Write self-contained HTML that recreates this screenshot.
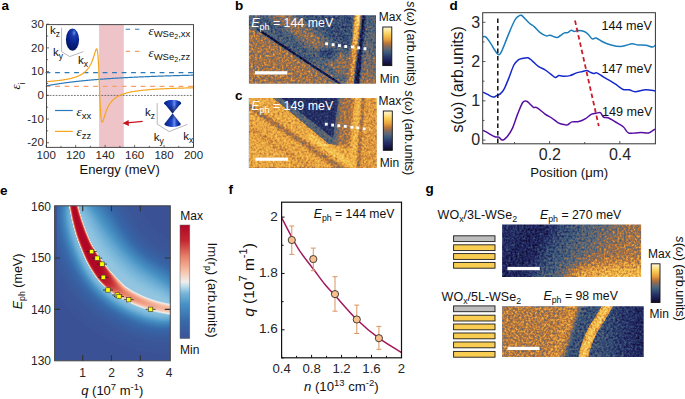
<!DOCTYPE html><html><head><meta charset="utf-8"><style>html,body{margin:0;padding:0;background:#fff;}svg{display:block;} text{font-family:"Liberation Sans", sans-serif;}</style></head><body>
<svg width="685" height="399" viewBox="0 0 685 399">
<defs>
<filter id="cmS" x="0" y="0" width="1" height="1" color-interpolation-filters="sRGB">
<feTurbulence type="fractalNoise" baseFrequency="0.45" numOctaves="2" seed="4" result="n"/>
<feColorMatrix in="n" type="matrix" values="1 0 0 0 0 1 0 0 0 0 1 0 0 0 0 0 0 0 0 1" result="ng"/>
<feComposite in="SourceGraphic" in2="ng" operator="arithmetic" k1="0" k2="1" k3="0.5" k4="-0.25" result="s"/>
<feComponentTransfer in="s">
<feFuncR type="table" tableValues="0.047 0.064 0.081 0.099 0.113 0.128 0.142 0.156 0.176 0.196 0.216 0.248 0.294 0.340 0.397 0.463 0.528 0.603 0.683 0.759 0.814 0.868 0.914 0.930 0.946 0.963 0.975 0.983 0.990 0.997 1.000 1.000 1.000"/>
<feFuncG type="table" tableValues="0.047 0.064 0.081 0.099 0.123 0.150 0.176 0.203 0.242 0.283 0.323 0.355 0.376 0.398 0.411 0.416 0.422 0.438 0.460 0.485 0.539 0.594 0.645 0.686 0.727 0.768 0.805 0.836 0.868 0.900 0.925 0.945 0.965"/>
<feFuncB type="table" tableValues="0.125 0.184 0.243 0.302 0.335 0.362 0.388 0.415 0.431 0.446 0.462 0.471 0.471 0.471 0.445 0.398 0.352 0.306 0.260 0.221 0.232 0.243 0.255 0.274 0.292 0.311 0.353 0.433 0.513 0.592 0.681 0.776 0.871"/>
<feFuncA type="linear" slope="0" intercept="1"/>
</feComponentTransfer>
<feGaussianBlur stdDeviation="0.35"/>
</filter>
<filter id="cmS2" x="0" y="0" width="1" height="1" color-interpolation-filters="sRGB">
<feTurbulence type="fractalNoise" baseFrequency="0.45" numOctaves="2" seed="9" result="n"/>
<feColorMatrix in="n" type="matrix" values="1 0 0 0 0 1 0 0 0 0 1 0 0 0 0 0 0 0 0 1" result="ng"/>
<feComposite in="SourceGraphic" in2="ng" operator="arithmetic" k1="0" k2="1" k3="0.38" k4="-0.19" result="s"/>
<feComponentTransfer in="s">
<feFuncR type="table" tableValues="0.047 0.064 0.081 0.099 0.113 0.128 0.142 0.156 0.176 0.196 0.216 0.248 0.294 0.340 0.397 0.463 0.528 0.603 0.683 0.759 0.814 0.868 0.914 0.930 0.946 0.963 0.975 0.983 0.990 0.997 1.000 1.000 1.000"/>
<feFuncG type="table" tableValues="0.047 0.064 0.081 0.099 0.123 0.150 0.176 0.203 0.242 0.283 0.323 0.355 0.376 0.398 0.411 0.416 0.422 0.438 0.460 0.485 0.539 0.594 0.645 0.686 0.727 0.768 0.805 0.836 0.868 0.900 0.925 0.945 0.965"/>
<feFuncB type="table" tableValues="0.125 0.184 0.243 0.302 0.335 0.362 0.388 0.415 0.431 0.446 0.462 0.471 0.471 0.471 0.445 0.398 0.352 0.306 0.260 0.221 0.232 0.243 0.255 0.274 0.292 0.311 0.353 0.433 0.513 0.592 0.681 0.776 0.871"/>
<feFuncA type="linear" slope="0" intercept="1"/>
</feComponentTransfer>
<feGaussianBlur stdDeviation="0.35"/>
</filter>
<filter id="cmS3" x="0" y="0" width="1" height="1" color-interpolation-filters="sRGB">
<feTurbulence type="fractalNoise" baseFrequency="0.45" numOctaves="2" seed="13" result="n"/>
<feColorMatrix in="n" type="matrix" values="1 0 0 0 0 1 0 0 0 0 1 0 0 0 0 0 0 0 0 1" result="ng"/>
<feComposite in="SourceGraphic" in2="ng" operator="arithmetic" k1="0" k2="1" k3="0.5" k4="-0.25" result="s"/>
<feComponentTransfer in="s">
<feFuncR type="table" tableValues="0.047 0.064 0.081 0.099 0.113 0.128 0.142 0.156 0.176 0.196 0.216 0.248 0.294 0.340 0.397 0.463 0.528 0.603 0.683 0.759 0.814 0.868 0.914 0.930 0.946 0.963 0.975 0.983 0.990 0.997 1.000 1.000 1.000"/>
<feFuncG type="table" tableValues="0.047 0.064 0.081 0.099 0.123 0.150 0.176 0.203 0.242 0.283 0.323 0.355 0.376 0.398 0.411 0.416 0.422 0.438 0.460 0.485 0.539 0.594 0.645 0.686 0.727 0.768 0.805 0.836 0.868 0.900 0.925 0.945 0.965"/>
<feFuncB type="table" tableValues="0.125 0.184 0.243 0.302 0.335 0.362 0.388 0.415 0.431 0.446 0.462 0.471 0.471 0.471 0.445 0.398 0.352 0.306 0.260 0.221 0.232 0.243 0.255 0.274 0.292 0.311 0.353 0.433 0.513 0.592 0.681 0.776 0.871"/>
<feFuncA type="linear" slope="0" intercept="1"/>
</feComponentTransfer>
<feGaussianBlur stdDeviation="0.35"/>
</filter>
<filter id="cmS4" x="0" y="0" width="1" height="1" color-interpolation-filters="sRGB">
<feTurbulence type="fractalNoise" baseFrequency="0.45" numOctaves="2" seed="21" result="n"/>
<feColorMatrix in="n" type="matrix" values="1 0 0 0 0 1 0 0 0 0 1 0 0 0 0 0 0 0 0 1" result="ng"/>
<feComposite in="SourceGraphic" in2="ng" operator="arithmetic" k1="0" k2="1" k3="0.5" k4="-0.25" result="s"/>
<feComponentTransfer in="s">
<feFuncR type="table" tableValues="0.047 0.064 0.081 0.099 0.113 0.128 0.142 0.156 0.176 0.196 0.216 0.248 0.294 0.340 0.397 0.463 0.528 0.603 0.683 0.759 0.814 0.868 0.914 0.930 0.946 0.963 0.975 0.983 0.990 0.997 1.000 1.000 1.000"/>
<feFuncG type="table" tableValues="0.047 0.064 0.081 0.099 0.123 0.150 0.176 0.203 0.242 0.283 0.323 0.355 0.376 0.398 0.411 0.416 0.422 0.438 0.460 0.485 0.539 0.594 0.645 0.686 0.727 0.768 0.805 0.836 0.868 0.900 0.925 0.945 0.965"/>
<feFuncB type="table" tableValues="0.125 0.184 0.243 0.302 0.335 0.362 0.388 0.415 0.431 0.446 0.462 0.471 0.471 0.471 0.445 0.398 0.352 0.306 0.260 0.221 0.232 0.243 0.255 0.274 0.292 0.311 0.353 0.433 0.513 0.592 0.681 0.776 0.871"/>
<feFuncA type="linear" slope="0" intercept="1"/>
</feComponentTransfer>
<feGaussianBlur stdDeviation="0.35"/>
</filter>
<filter id="cmRB" x="0" y="0" width="1" height="1" color-interpolation-filters="sRGB">
<feComponentTransfer in="SourceGraphic">
<feFuncR type="table" tableValues="0.231 0.228 0.225 0.222 0.218 0.218 0.230 0.243 0.255 0.267 0.299 0.360 0.422 0.499 0.641 0.789 0.941 0.950 0.958 0.967 0.956 0.941 0.926 0.910 0.880 0.848 0.817 0.785 0.760 0.743 0.725 0.708 0.690"/>
<feFuncG type="table" tableValues="0.325 0.343 0.361 0.379 0.397 0.418 0.451 0.484 0.516 0.549 0.587 0.632 0.677 0.730 0.814 0.879 0.933 0.875 0.816 0.757 0.696 0.635 0.574 0.512 0.434 0.355 0.277 0.198 0.143 0.115 0.087 0.059 0.031"/>
<feFuncB type="table" tableValues="0.588 0.605 0.621 0.637 0.654 0.671 0.692 0.713 0.735 0.756 0.779 0.806 0.833 0.863 0.902 0.921 0.925 0.838 0.751 0.664 0.598 0.537 0.475 0.414 0.366 0.317 0.269 0.221 0.191 0.181 0.170 0.160 0.149"/>
<feFuncA type="linear" slope="0" intercept="1"/>
</feComponentTransfer>
</filter>
<filter id="bl0_6" x="-50%" y="-50%" width="200%" height="200%"><feGaussianBlur stdDeviation="0.6"/></filter>
<filter id="bl1" x="-50%" y="-50%" width="200%" height="200%"><feGaussianBlur stdDeviation="1"/></filter>
<filter id="bl1_5" x="-50%" y="-50%" width="200%" height="200%"><feGaussianBlur stdDeviation="1.5"/></filter>
<filter id="bl2" x="-50%" y="-50%" width="200%" height="200%"><feGaussianBlur stdDeviation="2"/></filter>
<filter id="bl3" x="-50%" y="-50%" width="200%" height="200%"><feGaussianBlur stdDeviation="3"/></filter>
<filter id="bl4" x="-50%" y="-50%" width="200%" height="200%"><feGaussianBlur stdDeviation="4"/></filter>
<filter id="bl6" x="-50%" y="-50%" width="200%" height="200%"><feGaussianBlur stdDeviation="6"/></filter>
<filter id="bl8" x="-50%" y="-50%" width="200%" height="200%"><feGaussianBlur stdDeviation="8"/></filter>
<linearGradient id="gSW" x1="0" y1="1" x2="0" y2="0">
<stop offset="0" stop-color="rgb(12,12,32)"/>
<stop offset="0.1" stop-color="rgb(26,26,80)"/>
<stop offset="0.22" stop-color="rgb(40,52,106)"/>
<stop offset="0.33" stop-color="rgb(58,88,120)"/>
<stop offset="0.42" stop-color="rgb(92,104,120)"/>
<stop offset="0.51" stop-color="rgb(140,108,86)"/>
<stop offset="0.59" stop-color="rgb(192,122,56)"/>
<stop offset="0.68" stop-color="rgb(232,162,64)"/>
<stop offset="0.8" stop-color="rgb(248,202,82)"/>
<stop offset="0.92" stop-color="rgb(255,233,160)"/>
<stop offset="1" stop-color="rgb(255,246,222)"/>
</linearGradient>
<linearGradient id="gRB" x1="0" y1="1" x2="0" y2="0">
<stop offset="0" stop-color="rgb(59,83,150)"/>
<stop offset="0.15" stop-color="rgb(55,105,170)"/>
<stop offset="0.3" stop-color="rgb(70,145,196)"/>
<stop offset="0.4" stop-color="rgb(120,182,218)"/>
<stop offset="0.45" stop-color="rgb(178,216,234)"/>
<stop offset="0.5" stop-color="rgb(240,238,236)"/>
<stop offset="0.6" stop-color="rgb(247,190,165)"/>
<stop offset="0.72" stop-color="rgb(232,130,105)"/>
<stop offset="0.86" stop-color="rgb(196,40,50)"/>
<stop offset="1" stop-color="rgb(176,8,38)"/>
</linearGradient>
<radialGradient id="gEll" cx="0.62" cy="0.2" r="0.8"><stop offset="0" stop-color="#6d8fe8"/><stop offset="0.2" stop-color="#1a3cb0"/><stop offset="0.6" stop-color="#08208a"/><stop offset="1" stop-color="#041560"/></radialGradient>
<linearGradient id="gCone" x1="0" y1="0" x2="1" y2="0"><stop offset="0" stop-color="#061f80"/><stop offset="0.45" stop-color="#1c46c8"/><stop offset="0.6" stop-color="#6a8cf0"/><stop offset="0.75" stop-color="#1a40b8"/><stop offset="1" stop-color="#061c78"/></linearGradient>
</defs>
<text x="1.5" y="10.2" font-size="13.5" text-anchor="start" fill="#000" font-weight="bold" font-style="normal" >a</text>
<text x="235" y="10.2" font-size="13.5" text-anchor="start" fill="#000" font-weight="bold" font-style="normal" >b</text>
<text x="235" y="100.3" font-size="13.5" text-anchor="start" fill="#000" font-weight="bold" font-style="normal" >c</text>
<text x="449.5" y="10.2" font-size="13.5" text-anchor="start" fill="#000" font-weight="bold" font-style="normal" >d</text>
<text x="0" y="195" font-size="13.5" text-anchor="start" fill="#000" font-weight="bold" font-style="normal" >e</text>
<text x="228.5" y="194" font-size="13.5" text-anchor="start" fill="#000" font-weight="bold" font-style="normal" >f</text>
<text x="425.5" y="193" font-size="13.5" text-anchor="start" fill="#000" font-weight="bold" font-style="normal" >g</text>
<rect x="99.08" y="24.3" width="24.75" height="123.1" fill="#eec4c8"/>
<line x1="45.6" y1="72.55" x2="193.5" y2="72.55" stroke="#2a7ab9" stroke-width="1.2" stroke-dasharray="4.8 4.7"/>
<line x1="45.6" y1="86.4" x2="193.5" y2="86.4" stroke="#f4a06c" stroke-width="1.2" stroke-dasharray="4.8 4.7"/>
<line x1="46.5" y1="95.45" x2="193.5" y2="95.45" stroke="#555" stroke-width="0.8" stroke-dasharray="1.8 1.25"/>
<path d="M46.2 85.93 L46.38 85.89 L46.57 85.86 L46.75 85.82 L46.94 85.79 L47.12 85.75 L47.3 85.72 L47.49 85.68 L47.67 85.65 L47.86 85.61 L48.04 85.58 L48.23 85.54 L48.41 85.51 L48.59 85.47 L48.78 85.44 L48.96 85.41 L49.15 85.37 L49.33 85.34 L49.51 85.31 L49.7 85.27 L49.88 85.24 L50.07 85.21 L50.25 85.17 L50.43 85.14 L50.62 85.11 L50.8 85.07 L50.99 85.04 L51.17 85.01 L51.36 84.98 L51.54 84.94 L51.72 84.91 L51.91 84.88 L52.09 84.85 L52.28 84.82 L52.46 84.78 L52.64 84.75 L52.83 84.72 L53.01 84.69 L53.2 84.66 L53.38 84.63 L53.57 84.6 L53.75 84.56 L53.93 84.53 L54.12 84.5 L54.3 84.47 L54.49 84.44 L54.67 84.41 L54.85 84.38 L55.04 84.35 L55.22 84.32 L55.41 84.29 L55.59 84.26 L55.77 84.23 L55.96 84.2 L56.14 84.17 L56.33 84.14 L56.51 84.11 L56.7 84.08 L56.88 84.06 L57.06 84.03 L57.25 84 L57.43 83.97 L57.62 83.94 L57.8 83.91 L57.98 83.88 L58.17 83.85 L58.35 83.83 L58.54 83.8 L58.72 83.77 L58.9 83.74 L59.09 83.71 L59.27 83.69 L59.46 83.66 L59.64 83.63 L59.83 83.6 L60.01 83.58 L60.19 83.55 L60.38 83.52 L60.56 83.49 L60.75 83.47 L60.93 83.44 L61.11 83.41 L61.3 83.39 L61.48 83.36 L61.67 83.33 L61.85 83.31 L62.03 83.28 L62.22 83.25 L62.4 83.23 L62.59 83.2 L62.77 83.17 L62.96 83.15 L63.14 83.12 L63.32 83.1 L63.51 83.07 L63.69 83.05 L63.88 83.02 L64.06 82.99 L64.24 82.97 L64.43 82.94 L64.61 82.92 L64.8 82.89 L64.98 82.87 L65.16 82.84 L65.35 82.82 L65.53 82.79 L65.72 82.77 L65.9 82.74 L66.09 82.72 L66.27 82.69 L66.45 82.67 L66.64 82.65 L66.82 82.62 L67.01 82.6 L67.19 82.57 L67.37 82.55 L67.56 82.53 L67.74 82.5 L67.93 82.48 L68.11 82.45 L68.3 82.43 L68.48 82.41 L68.66 82.38 L68.85 82.36 L69.03 82.34 L69.22 82.31 L69.4 82.29 L69.58 82.27 L69.77 82.24 L69.95 82.22 L70.14 82.2 L70.32 82.18 L70.5 82.15 L70.69 82.13 L70.87 82.11 L71.06 82.09 L71.24 82.06 L71.43 82.04 L71.61 82.02 L71.79 82 L71.98 81.97 L72.16 81.95 L72.35 81.93 L72.53 81.91 L72.71 81.89 L72.9 81.86 L73.08 81.84 L73.27 81.82 L73.45 81.8 L73.63 81.78 L73.82 81.76 L74 81.73 L74.19 81.71 L74.37 81.69 L74.56 81.67 L74.74 81.65 L74.92 81.63 L75.11 81.61 L75.29 81.59 L75.48 81.57 L75.66 81.55 L75.84 81.52 L76.03 81.5 L76.21 81.48 L76.4 81.46 L76.58 81.44 L76.76 81.42 L76.95 81.4 L77.13 81.38 L77.32 81.36 L77.5 81.34 L77.69 81.32 L77.87 81.3 L78.05 81.28 L78.24 81.26 L78.42 81.24 L78.61 81.22 L78.79 81.2 L78.97 81.18 L79.16 81.16 L79.34 81.14 L79.53 81.12 L79.71 81.1 L79.89 81.08 L80.08 81.07 L80.26 81.05 L80.45 81.03 L80.63 81.01 L80.82 80.99 L81 80.97 L81.18 80.95 L81.37 80.93 L81.55 80.91 L81.74 80.89 L81.92 80.88 L82.1 80.86 L82.29 80.84 L82.47 80.82 L82.66 80.8 L82.84 80.78 L83.03 80.76 L83.21 80.75 L83.39 80.73 L83.58 80.71 L83.76 80.69 L83.95 80.67 L84.13 80.65 L84.31 80.64 L84.5 80.62 L84.68 80.6 L84.87 80.58 L85.05 80.57 L85.23 80.55 L85.42 80.53 L85.6 80.51 L85.79 80.49 L85.97 80.48 L86.16 80.46 L86.34 80.44 L86.52 80.42 L86.71 80.41 L86.89 80.39 L87.08 80.37 L87.26 80.36 L87.44 80.34 L87.63 80.32 L87.81 80.3 L88 80.29 L88.18 80.27 L88.36 80.25 L88.55 80.24 L88.73 80.22 L88.92 80.2 L89.1 80.19 L89.29 80.17 L89.47 80.15 L89.65 80.14 L89.84 80.12 L90.02 80.1 L90.21 80.09 L90.39 80.07 L90.57 80.05 L90.76 80.04 L90.94 80.02 L91.13 80.01 L91.31 79.99 L91.49 79.97 L91.68 79.96 L91.86 79.94 L92.05 79.93 L92.23 79.91 L92.42 79.89 L92.6 79.88 L92.78 79.86 L92.97 79.85 L93.15 79.83 L93.34 79.82 L93.52 79.8 L93.7 79.78 L93.89 79.77 L94.07 79.75 L94.26 79.74 L94.44 79.72 L94.62 79.71 L94.81 79.69 L94.99 79.68 L95.18 79.66 L95.36 79.65 L95.55 79.63 L95.73 79.62 L95.91 79.6 L96.1 79.59 L96.28 79.57 L96.47 79.56 L96.65 79.54 L96.83 79.53 L97.02 79.51 L97.2 79.5 L97.39 79.48 L97.57 79.47 L97.75 79.45 L97.94 79.44 L98.12 79.42 L98.31 79.41 L98.49 79.4 L98.68 79.38 L98.86 79.37 L99.04 79.35 L99.23 79.34 L99.41 79.32 L99.6 79.31 L99.78 79.3 L99.96 79.28 L100.15 79.27 L100.33 79.25 L100.52 79.24 L100.7 79.23 L100.89 79.21 L101.07 79.2 L101.25 79.18 L101.44 79.17 L101.62 79.16 L101.81 79.14 L101.99 79.13 L102.17 79.12 L102.36 79.1 L102.54 79.09 L102.73 79.07 L102.91 79.06 L103.09 79.05 L103.28 79.03 L103.46 79.02 L103.65 79.01 L103.83 78.99 L104.02 78.98 L104.2 78.97 L104.38 78.95 L104.57 78.94 L104.75 78.93 L104.94 78.91 L105.12 78.9 L105.3 78.89 L105.49 78.88 L105.67 78.86 L105.86 78.85 L106.04 78.84 L106.22 78.82 L106.41 78.81 L106.59 78.8 L106.78 78.79 L106.96 78.77 L107.15 78.76 L107.33 78.75 L107.51 78.73 L107.7 78.72 L107.88 78.71 L108.07 78.7 L108.25 78.68 L108.43 78.67 L108.62 78.66 L108.8 78.65 L108.99 78.63 L109.17 78.62 L109.35 78.61 L109.54 78.6 L109.72 78.59 L109.91 78.57 L110.09 78.56 L110.28 78.55 L110.46 78.54 L110.64 78.52 L110.83 78.51 L111.01 78.5 L111.2 78.49 L111.38 78.48 L111.56 78.46 L111.75 78.45 L111.93 78.44 L112.12 78.43 L112.3 78.42 L112.49 78.41 L112.67 78.39 L112.85 78.38 L113.04 78.37 L113.22 78.36 L113.41 78.35 L113.59 78.34 L113.77 78.32 L113.96 78.31 L114.14 78.3 L114.33 78.29 L114.51 78.28 L114.69 78.27 L114.88 78.25 L115.06 78.24 L115.25 78.23 L115.43 78.22 L115.62 78.21 L115.8 78.2 L115.98 78.19 L116.17 78.18 L116.35 78.16 L116.54 78.15 L116.72 78.14 L116.9 78.13 L117.09 78.12 L117.27 78.11 L117.46 78.1 L117.64 78.09 L117.82 78.08 L118.01 78.07 L118.19 78.05 L118.38 78.04 L118.56 78.03 L118.75 78.02 L118.93 78.01 L119.11 78 L119.3 77.99 L119.48 77.98 L119.67 77.97 L119.85 77.96 L120.03 77.95 L120.22 77.94 L120.4 77.93 L120.59 77.92 L120.77 77.9 L120.95 77.89 L121.14 77.88 L121.32 77.87 L121.51 77.86 L121.69 77.85 L121.88 77.84 L122.06 77.83 L122.24 77.82 L122.43 77.81 L122.61 77.8 L122.8 77.79 L122.98 77.78 L123.16 77.77 L123.35 77.76 L123.53 77.75 L123.72 77.74 L123.9 77.73 L124.08 77.72 L124.27 77.71 L124.45 77.7 L124.64 77.69 L124.82 77.68 L125.01 77.67 L125.19 77.66 L125.37 77.65 L125.56 77.64 L125.74 77.63 L125.93 77.62 L126.11 77.61 L126.29 77.6 L126.48 77.59 L126.66 77.58 L126.85 77.57 L127.03 77.56 L127.22 77.55 L127.4 77.54 L127.58 77.53 L127.77 77.52 L127.95 77.51 L128.14 77.51 L128.32 77.5 L128.5 77.49 L128.69 77.48 L128.87 77.47 L129.06 77.46 L129.24 77.45 L129.42 77.44 L129.61 77.43 L129.79 77.42 L129.98 77.41 L130.16 77.4 L130.35 77.39 L130.53 77.38 L130.71 77.37 L130.9 77.36 L131.08 77.36 L131.27 77.35 L131.45 77.34 L131.63 77.33 L131.82 77.32 L132 77.31 L132.19 77.3 L132.37 77.29 L132.55 77.28 L132.74 77.27 L132.92 77.27 L133.11 77.26 L133.29 77.25 L133.48 77.24 L133.66 77.23 L133.84 77.22 L134.03 77.21 L134.21 77.2 L134.4 77.19 L134.58 77.19 L134.76 77.18 L134.95 77.17 L135.13 77.16 L135.32 77.15 L135.5 77.14 L135.68 77.13 L135.87 77.12 L136.05 77.12 L136.24 77.11 L136.42 77.1 L136.61 77.09 L136.79 77.08 L136.97 77.07 L137.16 77.06 L137.34 77.06 L137.53 77.05 L137.71 77.04 L137.89 77.03 L138.08 77.02 L138.26 77.01 L138.45 77.01 L138.63 77 L138.81 76.99 L139 76.98 L139.18 76.97 L139.37 76.96 L139.55 76.96 L139.74 76.95 L139.92 76.94 L140.1 76.93 L140.29 76.92 L140.47 76.92 L140.66 76.91 L140.84 76.9 L141.02 76.89 L141.21 76.88 L141.39 76.87 L141.58 76.87 L141.76 76.86 L141.94 76.85 L142.13 76.84 L142.31 76.83 L142.5 76.83 L142.68 76.82 L142.87 76.81 L143.05 76.8 L143.23 76.8 L143.42 76.79 L143.6 76.78 L143.79 76.77 L143.97 76.76 L144.15 76.76 L144.34 76.75 L144.52 76.74 L144.71 76.73 L144.89 76.73 L145.08 76.72 L145.26 76.71 L145.44 76.7 L145.63 76.69 L145.81 76.69 L146 76.68 L146.18 76.67 L146.36 76.66 L146.55 76.66 L146.73 76.65 L146.92 76.64 L147.1 76.63 L147.28 76.63 L147.47 76.62 L147.65 76.61 L147.84 76.6 L148.02 76.6 L148.21 76.59 L148.39 76.58 L148.57 76.57 L148.76 76.57 L148.94 76.56 L149.13 76.55 L149.31 76.55 L149.49 76.54 L149.68 76.53 L149.86 76.52 L150.05 76.52 L150.23 76.51 L150.41 76.5 L150.6 76.49 L150.78 76.49 L150.97 76.48 L151.15 76.47 L151.34 76.47 L151.52 76.46 L151.7 76.45 L151.89 76.44 L152.07 76.44 L152.26 76.43 L152.44 76.42 L152.62 76.42 L152.81 76.41 L152.99 76.4 L153.18 76.4 L153.36 76.39 L153.54 76.38 L153.73 76.37 L153.91 76.37 L154.1 76.36 L154.28 76.35 L154.47 76.35 L154.65 76.34 L154.83 76.33 L155.02 76.33 L155.2 76.32 L155.39 76.31 L155.57 76.31 L155.75 76.3 L155.94 76.29 L156.12 76.29 L156.31 76.28 L156.49 76.27 L156.68 76.27 L156.86 76.26 L157.04 76.25 L157.23 76.25 L157.41 76.24 L157.6 76.23 L157.78 76.23 L157.96 76.22 L158.15 76.21 L158.33 76.21 L158.52 76.2 L158.7 76.19 L158.88 76.19 L159.07 76.18 L159.25 76.17 L159.44 76.17 L159.62 76.16 L159.81 76.15 L159.99 76.15 L160.17 76.14 L160.36 76.13 L160.54 76.13 L160.73 76.12 L160.91 76.12 L161.09 76.11 L161.28 76.1 L161.46 76.1 L161.65 76.09 L161.83 76.08 L162.01 76.08 L162.2 76.07 L162.38 76.06 L162.57 76.06 L162.75 76.05 L162.94 76.05 L163.12 76.04 L163.3 76.03 L163.49 76.03 L163.67 76.02 L163.86 76.02 L164.04 76.01 L164.22 76 L164.41 76 L164.59 75.99 L164.78 75.98 L164.96 75.98 L165.14 75.97 L165.33 75.97 L165.51 75.96 L165.7 75.95 L165.88 75.95 L166.07 75.94 L166.25 75.94 L166.43 75.93 L166.62 75.92 L166.8 75.92 L166.99 75.91 L167.17 75.91 L167.35 75.9 L167.54 75.89 L167.72 75.89 L167.91 75.88 L168.09 75.88 L168.27 75.87 L168.46 75.86 L168.64 75.86 L168.83 75.85 L169.01 75.85 L169.2 75.84 L169.38 75.84 L169.56 75.83 L169.75 75.82 L169.93 75.82 L170.12 75.81 L170.3 75.81 L170.48 75.8 L170.67 75.8 L170.85 75.79 L171.04 75.78 L171.22 75.78 L171.41 75.77 L171.59 75.77 L171.77 75.76 L171.96 75.76 L172.14 75.75 L172.33 75.74 L172.51 75.74 L172.69 75.73 L172.88 75.73 L173.06 75.72 L173.25 75.72 L173.43 75.71 L173.61 75.71 L173.8 75.7 L173.98 75.69 L174.17 75.69 L174.35 75.68 L174.54 75.68 L174.72 75.67 L174.9 75.67 L175.09 75.66 L175.27 75.66 L175.46 75.65 L175.64 75.65 L175.82 75.64 L176.01 75.63 L176.19 75.63 L176.38 75.62 L176.56 75.62 L176.74 75.61 L176.93 75.61 L177.11 75.6 L177.3 75.6 L177.48 75.59 L177.67 75.59 L177.85 75.58 L178.03 75.58 L178.22 75.57 L178.4 75.57 L178.59 75.56 L178.77 75.56 L178.95 75.55 L179.14 75.54 L179.32 75.54 L179.51 75.53 L179.69 75.53 L179.87 75.52 L180.06 75.52 L180.24 75.51 L180.43 75.51 L180.61 75.5 L180.8 75.5 L180.98 75.49 L181.16 75.49 L181.35 75.48 L181.53 75.48 L181.72 75.47 L181.9 75.47 L182.08 75.46 L182.27 75.46 L182.45 75.45 L182.64 75.45 L182.82 75.44 L183 75.44 L183.19 75.43 L183.37 75.43 L183.56 75.42 L183.74 75.42 L183.93 75.41 L184.11 75.41 L184.29 75.4 L184.48 75.4 L184.66 75.39 L184.85 75.39 L185.03 75.38 L185.21 75.38 L185.4 75.37 L185.58 75.37 L185.77 75.36 L185.95 75.36 L186.13 75.35 L186.32 75.35 L186.5 75.34 L186.69 75.34 L186.87 75.33 L187.06 75.33 L187.24 75.32 L187.42 75.32 L187.61 75.32 L187.79 75.31 L187.98 75.31 L188.16 75.3 L188.34 75.3 L188.53 75.29 L188.71 75.29 L188.9 75.28 L189.08 75.28 L189.27 75.27 L189.45 75.27 L189.63 75.26 L189.82 75.26 L190 75.25 L190.19 75.25 L190.37 75.24 L190.55 75.24 L190.74 75.24 L190.92 75.23 L191.11 75.23 L191.29 75.22 L191.47 75.22 L191.66 75.21 L191.84 75.21 L192.03 75.2 L192.21 75.2 L192.4 75.19 L192.58 75.19 L192.76 75.19 L192.95 75.18 L193.13 75.18 L193.32 75.17 L193.5 75.17" fill="none" stroke="#2a7ab9" stroke-width="1.2"/>
<path d="M46.2 81.64 L46.38 81.63 L46.57 81.62 L46.75 81.6 L46.94 81.59 L47.12 81.58 L47.3 81.56 L47.49 81.55 L47.67 81.54 L47.86 81.52 L48.04 81.51 L48.23 81.5 L48.41 81.48 L48.59 81.47 L48.78 81.45 L48.96 81.44 L49.15 81.42 L49.33 81.41 L49.51 81.4 L49.7 81.38 L49.88 81.37 L50.07 81.35 L50.25 81.34 L50.43 81.32 L50.62 81.31 L50.8 81.29 L50.99 81.27 L51.17 81.26 L51.36 81.24 L51.54 81.23 L51.72 81.21 L51.91 81.2 L52.09 81.18 L52.28 81.16 L52.46 81.15 L52.64 81.13 L52.83 81.11 L53.01 81.1 L53.2 81.08 L53.38 81.06 L53.57 81.04 L53.75 81.03 L53.93 81.01 L54.12 80.99 L54.3 80.97 L54.49 80.96 L54.67 80.94 L54.85 80.92 L55.04 80.9 L55.22 80.88 L55.41 80.86 L55.59 80.85 L55.77 80.83 L55.96 80.81 L56.14 80.79 L56.33 80.77 L56.51 80.75 L56.7 80.73 L56.88 80.71 L57.06 80.69 L57.25 80.67 L57.43 80.65 L57.62 80.63 L57.8 80.6 L57.98 80.58 L58.17 80.56 L58.35 80.54 L58.54 80.52 L58.72 80.5 L58.9 80.47 L59.09 80.45 L59.27 80.43 L59.46 80.41 L59.64 80.38 L59.83 80.36 L60.01 80.34 L60.19 80.31 L60.38 80.29 L60.56 80.27 L60.75 80.24 L60.93 80.22 L61.11 80.19 L61.3 80.17 L61.48 80.14 L61.67 80.12 L61.85 80.09 L62.03 80.06 L62.22 80.04 L62.4 80.01 L62.59 79.99 L62.77 79.96 L62.96 79.93 L63.14 79.9 L63.32 79.88 L63.51 79.85 L63.69 79.82 L63.88 79.79 L64.06 79.76 L64.24 79.73 L64.43 79.7 L64.61 79.67 L64.8 79.64 L64.98 79.61 L65.16 79.58 L65.35 79.55 L65.53 79.52 L65.72 79.49 L65.9 79.45 L66.09 79.42 L66.27 79.39 L66.45 79.35 L66.64 79.32 L66.82 79.29 L67.01 79.25 L67.19 79.22 L67.37 79.18 L67.56 79.15 L67.74 79.11 L67.93 79.07 L68.11 79.04 L68.3 79 L68.48 78.96 L68.66 78.92 L68.85 78.88 L69.03 78.84 L69.22 78.81 L69.4 78.76 L69.58 78.72 L69.77 78.68 L69.95 78.64 L70.14 78.6 L70.32 78.56 L70.5 78.51 L70.69 78.47 L70.87 78.43 L71.06 78.38 L71.24 78.34 L71.43 78.29 L71.61 78.24 L71.79 78.2 L71.98 78.15 L72.16 78.1 L72.35 78.05 L72.53 78 L72.71 77.95 L72.9 77.9 L73.08 77.85 L73.27 77.8 L73.45 77.74 L73.63 77.69 L73.82 77.63 L74 77.58 L74.19 77.52 L74.37 77.46 L74.56 77.41 L74.74 77.35 L74.92 77.29 L75.11 77.23 L75.29 77.17 L75.48 77.1 L75.66 77.04 L75.84 76.98 L76.03 76.91 L76.21 76.85 L76.4 76.78 L76.58 76.71 L76.76 76.64 L76.95 76.57 L77.13 76.5 L77.32 76.43 L77.5 76.35 L77.69 76.28 L77.87 76.2 L78.05 76.13 L78.24 76.05 L78.42 75.97 L78.61 75.89 L78.79 75.8 L78.97 75.72 L79.16 75.63 L79.34 75.55 L79.53 75.46 L79.71 75.37 L79.89 75.28 L80.08 75.18 L80.26 75.09 L80.45 74.99 L80.63 74.89 L80.82 74.79 L81 74.69 L81.18 74.58 L81.37 74.48 L81.55 74.37 L81.74 74.26 L81.92 74.15 L82.1 74.03 L82.29 73.92 L82.47 73.8 L82.66 73.67 L82.84 73.55 L83.03 73.42 L83.21 73.29 L83.39 73.16 L83.58 73.03 L83.76 72.89 L83.95 72.75 L84.13 72.6 L84.31 72.46 L84.5 72.31 L84.68 72.15 L84.87 72 L85.05 71.83 L85.23 71.67 L85.42 71.5 L85.6 71.33 L85.79 71.15 L85.97 70.97 L86.16 70.79 L86.34 70.6 L86.52 70.4 L86.71 70.2 L86.89 70 L87.08 69.79 L87.26 69.57 L87.44 69.35 L87.63 69.13 L87.81 68.9 L88 68.66 L88.18 68.41 L88.36 68.16 L88.55 67.9 L88.73 67.64 L88.92 67.36 L89.1 67.08 L89.29 66.79 L89.47 66.5 L89.65 66.19 L89.84 65.88 L90.02 65.55 L90.21 65.22 L90.39 64.87 L90.57 64.52 L90.76 64.16 L90.94 63.78 L91.13 63.39 L91.31 62.99 L91.49 62.58 L91.68 62.16 L91.86 61.72 L92.05 61.28 L92.23 60.81 L92.42 60.34 L92.6 59.85 L92.78 59.35 L92.97 58.83 L93.15 58.3 L93.34 57.75 L93.52 57.2 L93.7 56.63 L93.89 56.05 L94.07 55.46 L94.26 54.86 L94.44 54.26 L94.62 53.65 L94.81 53.04 L94.99 52.44 L95.18 51.86 L95.36 51.29 L95.55 50.75 L95.73 50.25 L95.91 49.8 L96.1 49.42 L96.28 49.12 L96.47 48.94 L96.65 48.89 L96.83 49.01 L97.02 49.34 L97.2 49.9 L97.39 50.75 L97.57 51.93 L97.75 53.47 L97.94 55.43 L98.12 57.83 L98.31 60.7 L98.49 64.03 L98.68 67.8 L98.86 71.97 L99.04 76.48 L99.23 81.2 L99.41 86.05 L99.6 90.87 L99.78 95.56 L99.96 100 L100.15 104.1 L100.33 107.78 L100.52 111.02 L100.7 113.78 L100.89 116.09 L101.07 117.96 L101.25 119.42 L101.44 120.53 L101.62 121.31 L101.81 121.82 L101.99 122.1 L102.17 122.19 L102.36 122.11 L102.54 121.9 L102.73 121.59 L102.91 121.19 L103.09 120.73 L103.28 120.22 L103.46 119.67 L103.65 119.1 L103.83 118.51 L104.02 117.91 L104.2 117.3 L104.38 116.69 L104.57 116.09 L104.75 115.49 L104.94 114.91 L105.12 114.33 L105.3 113.76 L105.49 113.21 L105.67 112.67 L105.86 112.14 L106.04 111.62 L106.22 111.12 L106.41 110.64 L106.59 110.16 L106.78 109.7 L106.96 109.26 L107.15 108.82 L107.33 108.4 L107.51 108 L107.7 107.6 L107.88 107.22 L108.07 106.84 L108.25 106.48 L108.43 106.13 L108.62 105.79 L108.8 105.46 L108.99 105.13 L109.17 104.82 L109.35 104.52 L109.54 104.22 L109.72 103.93 L109.91 103.65 L110.09 103.38 L110.28 103.12 L110.46 102.86 L110.64 102.61 L110.83 102.37 L111.01 102.13 L111.2 101.9 L111.38 101.67 L111.56 101.45 L111.75 101.24 L111.93 101.03 L112.12 100.83 L112.3 100.63 L112.49 100.44 L112.67 100.25 L112.85 100.06 L113.04 99.88 L113.22 99.71 L113.41 99.54 L113.59 99.37 L113.77 99.21 L113.96 99.05 L114.14 98.89 L114.33 98.74 L114.51 98.59 L114.69 98.44 L114.88 98.3 L115.06 98.16 L115.25 98.02 L115.43 97.88 L115.62 97.75 L115.8 97.62 L115.98 97.5 L116.17 97.37 L116.35 97.25 L116.54 97.13 L116.72 97.02 L116.9 96.9 L117.09 96.79 L117.27 96.68 L117.46 96.57 L117.64 96.47 L117.82 96.36 L118.01 96.26 L118.19 96.16 L118.38 96.06 L118.56 95.97 L118.75 95.87 L118.93 95.78 L119.11 95.69 L119.3 95.6 L119.48 95.51 L119.67 95.42 L119.85 95.34 L120.03 95.25 L120.22 95.17 L120.4 95.09 L120.59 95.01 L120.77 94.93 L120.95 94.85 L121.14 94.78 L121.32 94.7 L121.51 94.63 L121.69 94.56 L121.88 94.49 L122.06 94.42 L122.24 94.35 L122.43 94.28 L122.61 94.21 L122.8 94.15 L122.98 94.08 L123.16 94.02 L123.35 93.95 L123.53 93.89 L123.72 93.83 L123.9 93.77 L124.08 93.71 L124.27 93.65 L124.45 93.6 L124.64 93.54 L124.82 93.48 L125.01 93.43 L125.19 93.37 L125.37 93.32 L125.56 93.27 L125.74 93.21 L125.93 93.16 L126.11 93.11 L126.29 93.06 L126.48 93.01 L126.66 92.96 L126.85 92.91 L127.03 92.86 L127.22 92.82 L127.4 92.77 L127.58 92.73 L127.77 92.68 L127.95 92.64 L128.14 92.59 L128.32 92.55 L128.5 92.5 L128.69 92.46 L128.87 92.42 L129.06 92.38 L129.24 92.34 L129.42 92.3 L129.61 92.26 L129.79 92.22 L129.98 92.18 L130.16 92.14 L130.35 92.1 L130.53 92.06 L130.71 92.03 L130.9 91.99 L131.08 91.95 L131.27 91.92 L131.45 91.88 L131.63 91.85 L131.82 91.81 L132 91.78 L132.19 91.74 L132.37 91.71 L132.55 91.67 L132.74 91.64 L132.92 91.61 L133.11 91.58 L133.29 91.54 L133.48 91.51 L133.66 91.48 L133.84 91.45 L134.03 91.42 L134.21 91.39 L134.4 91.36 L134.58 91.33 L134.76 91.3 L134.95 91.27 L135.13 91.24 L135.32 91.21 L135.5 91.19 L135.68 91.16 L135.87 91.13 L136.05 91.1 L136.24 91.08 L136.42 91.05 L136.61 91.02 L136.79 91 L136.97 90.97 L137.16 90.94 L137.34 90.92 L137.53 90.89 L137.71 90.87 L137.89 90.84 L138.08 90.82 L138.26 90.8 L138.45 90.77 L138.63 90.75 L138.81 90.72 L139 90.7 L139.18 90.68 L139.37 90.65 L139.55 90.63 L139.74 90.61 L139.92 90.59 L140.1 90.56 L140.29 90.54 L140.47 90.52 L140.66 90.5 L140.84 90.48 L141.02 90.46 L141.21 90.43 L141.39 90.41 L141.58 90.39 L141.76 90.37 L141.94 90.35 L142.13 90.33 L142.31 90.31 L142.5 90.29 L142.68 90.27 L142.87 90.25 L143.05 90.23 L143.23 90.21 L143.42 90.2 L143.6 90.18 L143.79 90.16 L143.97 90.14 L144.15 90.12 L144.34 90.1 L144.52 90.08 L144.71 90.07 L144.89 90.05 L145.08 90.03 L145.26 90.01 L145.44 90 L145.63 89.98 L145.81 89.96 L146 89.94 L146.18 89.93 L146.36 89.91 L146.55 89.89 L146.73 89.88 L146.92 89.86 L147.1 89.85 L147.28 89.83 L147.47 89.81 L147.65 89.8 L147.84 89.78 L148.02 89.77 L148.21 89.75 L148.39 89.74 L148.57 89.72 L148.76 89.71 L148.94 89.69 L149.13 89.68 L149.31 89.66 L149.49 89.65 L149.68 89.63 L149.86 89.62 L150.05 89.6 L150.23 89.59 L150.41 89.57 L150.6 89.56 L150.78 89.55 L150.97 89.53 L151.15 89.52 L151.34 89.51 L151.52 89.49 L151.7 89.48 L151.89 89.47 L152.07 89.45 L152.26 89.44 L152.44 89.43 L152.62 89.41 L152.81 89.4 L152.99 89.39 L153.18 89.37 L153.36 89.36 L153.54 89.35 L153.73 89.34 L153.91 89.32 L154.1 89.31 L154.28 89.3 L154.47 89.29 L154.65 89.28 L154.83 89.26 L155.02 89.25 L155.2 89.24 L155.39 89.23 L155.57 89.22 L155.75 89.2 L155.94 89.19 L156.12 89.18 L156.31 89.17 L156.49 89.16 L156.68 89.15 L156.86 89.14 L157.04 89.13 L157.23 89.11 L157.41 89.1 L157.6 89.09 L157.78 89.08 L157.96 89.07 L158.15 89.06 L158.33 89.05 L158.52 89.04 L158.7 89.03 L158.88 89.02 L159.07 89.01 L159.25 89 L159.44 88.99 L159.62 88.98 L159.81 88.97 L159.99 88.96 L160.17 88.95 L160.36 88.94 L160.54 88.93 L160.73 88.92 L160.91 88.91 L161.09 88.9 L161.28 88.89 L161.46 88.88 L161.65 88.87 L161.83 88.86 L162.01 88.85 L162.2 88.84 L162.38 88.83 L162.57 88.82 L162.75 88.82 L162.94 88.81 L163.12 88.8 L163.3 88.79 L163.49 88.78 L163.67 88.77 L163.86 88.76 L164.04 88.75 L164.22 88.74 L164.41 88.74 L164.59 88.73 L164.78 88.72 L164.96 88.71 L165.14 88.7 L165.33 88.69 L165.51 88.68 L165.7 88.68 L165.88 88.67 L166.07 88.66 L166.25 88.65 L166.43 88.64 L166.62 88.63 L166.8 88.63 L166.99 88.62 L167.17 88.61 L167.35 88.6 L167.54 88.59 L167.72 88.59 L167.91 88.58 L168.09 88.57 L168.27 88.56 L168.46 88.56 L168.64 88.55 L168.83 88.54 L169.01 88.53 L169.2 88.53 L169.38 88.52 L169.56 88.51 L169.75 88.5 L169.93 88.5 L170.12 88.49 L170.3 88.48 L170.48 88.47 L170.67 88.47 L170.85 88.46 L171.04 88.45 L171.22 88.45 L171.41 88.44 L171.59 88.43 L171.77 88.42 L171.96 88.42 L172.14 88.41 L172.33 88.4 L172.51 88.4 L172.69 88.39 L172.88 88.38 L173.06 88.38 L173.25 88.37 L173.43 88.36 L173.61 88.36 L173.8 88.35 L173.98 88.34 L174.17 88.34 L174.35 88.33 L174.54 88.32 L174.72 88.32 L174.9 88.31 L175.09 88.31 L175.27 88.3 L175.46 88.29 L175.64 88.29 L175.82 88.28 L176.01 88.27 L176.19 88.27 L176.38 88.26 L176.56 88.26 L176.74 88.25 L176.93 88.24 L177.11 88.24 L177.3 88.23 L177.48 88.23 L177.67 88.22 L177.85 88.21 L178.03 88.21 L178.22 88.2 L178.4 88.2 L178.59 88.19 L178.77 88.18 L178.95 88.18 L179.14 88.17 L179.32 88.17 L179.51 88.16 L179.69 88.16 L179.87 88.15 L180.06 88.14 L180.24 88.14 L180.43 88.13 L180.61 88.13 L180.8 88.12 L180.98 88.12 L181.16 88.11 L181.35 88.11 L181.53 88.1 L181.72 88.1 L181.9 88.09 L182.08 88.08 L182.27 88.08 L182.45 88.07 L182.64 88.07 L182.82 88.06 L183 88.06 L183.19 88.05 L183.37 88.05 L183.56 88.04 L183.74 88.04 L183.93 88.03 L184.11 88.03 L184.29 88.02 L184.48 88.02 L184.66 88.01 L184.85 88.01 L185.03 88 L185.21 88 L185.4 87.99 L185.58 87.99 L185.77 87.98 L185.95 87.98 L186.13 87.97 L186.32 87.97 L186.5 87.96 L186.69 87.96 L186.87 87.95 L187.06 87.95 L187.24 87.94 L187.42 87.94 L187.61 87.94 L187.79 87.93 L187.98 87.93 L188.16 87.92 L188.34 87.92 L188.53 87.91 L188.71 87.91 L188.9 87.9 L189.08 87.9 L189.27 87.89 L189.45 87.89 L189.63 87.89 L189.82 87.88 L190 87.88 L190.19 87.87 L190.37 87.87 L190.55 87.86 L190.74 87.86 L190.92 87.85 L191.11 87.85 L191.29 87.85 L191.47 87.84 L191.66 87.84 L191.84 87.83 L192.03 87.83 L192.21 87.83 L192.4 87.82 L192.58 87.82 L192.76 87.81 L192.95 87.81 L193.13 87.8 L193.32 87.8 L193.5 87.8" fill="none" stroke="#f5a51e" stroke-width="1.2" stroke-linejoin="round"/>
<rect x="46.5" y="24.6" width="147" height="122.8" fill="none" stroke="#4a4a4a" stroke-width="1"/>
<path d="M46.5 142.74 h2.5 M46.5 130.88 h1.6 M46.5 119.02 h2.5 M46.5 107.16 h1.6 M46.5 95.3 h2.5 M46.5 83.44 h1.6 M46.5 71.58 h2.5 M46.5 59.72 h1.6 M46.5 47.86 h2.5 M46.5 36 h1.6 M46.5 24.14 h2.5 M46.2 147.4 v-2.5 M60.93 147.4 v-1.6 M75.66 147.4 v-2.5 M90.39 147.4 v-1.6 M105.12 147.4 v-2.5 M119.85 147.4 v-1.6 M134.58 147.4 v-2.5 M149.31 147.4 v-1.6 M164.04 147.4 v-2.5 M178.77 147.4 v-1.6 M193.5 147.4 v-2.5" stroke="#333" stroke-width="0.7" fill="none"/>
<text x="43.9" y="27.84" font-size="11.5" text-anchor="end" fill="#262626" font-weight="normal" font-style="normal" >30</text>
<text x="43.9" y="51.56" font-size="11.5" text-anchor="end" fill="#262626" font-weight="normal" font-style="normal" >20</text>
<text x="43.9" y="75.28" font-size="11.5" text-anchor="end" fill="#262626" font-weight="normal" font-style="normal" >10</text>
<text x="43.9" y="99" font-size="11.5" text-anchor="end" fill="#262626" font-weight="normal" font-style="normal" >0</text>
<text x="43.9" y="122.72" font-size="11.5" text-anchor="end" fill="#262626" font-weight="normal" font-style="normal" >-10</text>
<text x="43.9" y="146.44" font-size="11.5" text-anchor="end" fill="#262626" font-weight="normal" font-style="normal" >-20</text>
<text x="46.2" y="159.1" font-size="11.5" text-anchor="middle" fill="#262626" font-weight="normal" font-style="normal" >100</text>
<text x="75.66" y="159.1" font-size="11.5" text-anchor="middle" fill="#262626" font-weight="normal" font-style="normal" >120</text>
<text x="105.12" y="159.1" font-size="11.5" text-anchor="middle" fill="#262626" font-weight="normal" font-style="normal" >140</text>
<text x="134.58" y="159.1" font-size="11.5" text-anchor="middle" fill="#262626" font-weight="normal" font-style="normal" >160</text>
<text x="164.04" y="159.1" font-size="11.5" text-anchor="middle" fill="#262626" font-weight="normal" font-style="normal" >180</text>
<text x="193.5" y="159.1" font-size="11.5" text-anchor="middle" fill="#262626" font-weight="normal" font-style="normal" >200</text>
<text x="119.7" y="174.3" font-size="13" text-anchor="middle" fill="#111" font-weight="normal" font-style="normal" >Energy (meV)</text>
<g transform="translate(20.3,85.9) rotate(-90)"><text x="0" y="0" font-size="13" text-anchor="middle" fill="#111" style="font-family:'Liberation Serif',serif" font-style="italic">&#949;<tspan font-size="9.5" dy="4.3" font-style="normal" style="font-family:'Liberation Sans',sans-serif">i</tspan></text></g>
<line x1="55" y1="110.5" x2="72.8" y2="110.5" stroke="#2a7ab9" stroke-width="1.2"/>
<line x1="55" y1="131.4" x2="72.8" y2="131.4" stroke="#f5a51e" stroke-width="1.2"/>
<text x="76.5" y="115.8" font-size="13" fill="#111"><tspan style="font-family:'Liberation Serif',serif" font-style="italic">&#949;</tspan><tspan font-size="9.5" dy="2.9">xx</tspan></text>
<text x="76.5" y="136.3" font-size="13" fill="#111"><tspan style="font-family:'Liberation Serif',serif" font-style="italic">&#949;</tspan><tspan font-size="9.5" dy="2.9">zz</tspan></text>
<line x1="125.7" y1="29.3" x2="141" y2="29.3" stroke="#2a7ab9" stroke-width="1.1" stroke-dasharray="4.4 4.9"/>
<line x1="125.7" y1="51.4" x2="141" y2="51.4" stroke="#f4a06c" stroke-width="1.1" stroke-dasharray="4.4 4.9"/>
<text x="148.5" y="34.5" font-size="13" fill="#111"><tspan style="font-family:'Liberation Serif',serif" font-style="italic">&#949;</tspan><tspan font-size="9.5" dy="2.9">WSe</tspan><tspan font-size="7" dy="2">2</tspan><tspan font-size="9.5" dy="-2">,xx</tspan></text>
<text x="148.5" y="56.6" font-size="13" fill="#111"><tspan style="font-family:'Liberation Serif',serif" font-style="italic">&#949;</tspan><tspan font-size="9.5" dy="2.9">WSe</tspan><tspan font-size="7" dy="2">2</tspan><tspan font-size="9.5" dy="-2">,zz</tspan></text>
<line x1="142.6" y1="121.3" x2="127" y2="122.8" stroke="#c8141e" stroke-width="1.3"/>
<path d="M122.6 123.2 L128.6 119.9 L128.9 125.9 Z" fill="#c8141e"/>
<path d="M61.6 27.7 V51.6 L69.7 56.6 L83.4 51.6" fill="none" stroke="#8a8a8a" stroke-width="0.6"/>
<ellipse cx="72.5" cy="39.6" rx="6.6" ry="11.2" fill="url(#gEll)"/>
<text x="50" y="33.5" font-size="11.5" fill="#111">k<tspan font-size="8.5" dy="3">z</tspan></text>
<text x="53" y="56.1" font-size="11.5" fill="#111">k<tspan font-size="8.5" dy="3">y</tspan></text>
<text x="78" y="63.5" font-size="11.5" fill="#111">k<tspan font-size="8.5" dy="3">x</tspan></text>
<path d="M157.2 103.1 V124.1 L169.1 131.6 L187.4 124.4" fill="none" stroke="#8a8a8a" stroke-width="0.6"/>
<linearGradient id="gConeT" x1="0" y1="0" x2="0" y2="1"><stop offset="0.35" stop-color="#000a3c" stop-opacity="0"/><stop offset="1" stop-color="#000a3c" stop-opacity="0.85"/></linearGradient>
<linearGradient id="gConeB" x1="0" y1="0" x2="0" y2="1"><stop offset="0" stop-color="#000a3c" stop-opacity="0.6"/><stop offset="0.5" stop-color="#000a3c" stop-opacity="0"/></linearGradient>
<path d="M164.2 103.3 A8.4 3.4 0 0 1 181 103.3 L172.6 113.6 Z" fill="url(#gCone)"/>
<ellipse cx="172.6" cy="103.3" rx="8.4" ry="3.2" fill="url(#gCone)"/>
<path d="M164.2 103.3 A8.4 3.4 0 0 1 181 103.3 L172.6 113.6 Z" fill="url(#gConeT)"/>
<path d="M164.3 124 L172.6 113.6 L180.9 124 A8.3 3 0 0 1 164.3 124 Z" fill="url(#gCone)"/>
<path d="M164.3 124 L172.6 113.6 L180.9 124 A8.3 3 0 0 1 164.3 124 Z" fill="url(#gConeB)"/>
<text x="145" y="116.3" font-size="11.5" fill="#111">k<tspan font-size="8.5" dy="3">z</tspan></text>
<text x="153.8" y="140.7" font-size="11.5" fill="#111">k<tspan font-size="8.5" dy="3">y</tspan></text>
<text x="183.2" y="140.1" font-size="11.5" fill="#111">k<tspan font-size="8.5" dy="3">x</tspan></text>
<svg x="248.9" y="15.3" width="127.1" height="68.4" viewBox="0 0 127.1 68.4" overflow="hidden">
<linearGradient id="gStrB" gradientUnits="userSpaceOnUse" x1="0" y1="0" x2="0" y2="68"><stop offset="0" stop-color="#dbdbdb"/><stop offset="0.3" stop-color="#c2c2c2"/><stop offset="0.6" stop-color="#adadad"/><stop offset="1" stop-color="#a3a3a3"/></linearGradient>
<g filter="url(#cmS)">
<rect x="0" y="0" width="127.1" height="68.4" fill="#4c4c4c"/>
<path d="M-5 -5 L14 -5 L12 8 L-5 8 Z" fill="#6b6b6b" filter="url(#bl3)"/>
<path d="M-5 8 L10 14 L8 45 L-5 45 Z" fill="#666666" filter="url(#bl3)"/>
<path d="M-5 10 L9.5 14.8 L92 70 L-5 72 Z" fill="#8b8b8b" filter="url(#bl2)"/>
<path d="M26 -4 L93 47" fill="none" stroke="#878787" stroke-width="17" stroke-linecap="round" filter="url(#bl4)"/>
<path d="M58 48 L100 38 L103 72 L86 72 Z" fill="#808080" filter="url(#bl3)"/>
<path d="M13 10.5 L95 64" fill="none" stroke="#616161" stroke-width="5" stroke-linecap="round" filter="url(#bl1_5)"/>
<ellipse cx="79" cy="38" rx="10" ry="6" fill="#383838" filter="url(#bl3)"/>
<linearGradient id="gRsB" gradientUnits="userSpaceOnUse" x1="0" y1="0" x2="0" y2="68"><stop offset="0" stop-color="#5e5e5e"/><stop offset="0.5" stop-color="#6b6b6b"/><stop offset="1" stop-color="#858585"/></linearGradient>
<path d="M117 -5 L132 -5 L132 72 L110 72 Z" fill="url(#gRsB)" filter="url(#bl1_5)"/>
<path d="M109.5 -3 L106 30 L102.5 72" fill="none" stroke="url(#gStrB)" stroke-width="6.5" filter="url(#bl1_5)"/>
<path d="M115.2 -2 L111.5 33 L107.3 70" fill="none" stroke="#141414" stroke-width="3" stroke-linecap="round" filter="url(#bl1)"/>
<path d="M110.5 45 L107.5 70" fill="none" stroke="#141414" stroke-width="3.6" stroke-linecap="round" filter="url(#bl1)"/>
<path d="M9 14 L92 69" fill="none" stroke="#121212" stroke-width="2.2" stroke-linecap="round" filter="url(#bl0_6)"/>
</g>
</svg>
<rect x="325.15" y="42.35" width="2.9" height="2.9" fill="#fff"/><rect x="331.65" y="43.25" width="2.9" height="2.9" fill="#fff"/><rect x="337.95" y="44.15" width="2.9" height="2.9" fill="#fff"/><rect x="344.25" y="45.05" width="2.9" height="2.9" fill="#fff"/><rect x="350.95" y="45.55" width="2.9" height="2.9" fill="#fff"/><rect x="357.25" y="46.35" width="2.9" height="2.9" fill="#fff"/><rect x="363.55" y="47.25" width="2.9" height="2.9" fill="#fff"/>
<rect x="254.9" y="71.2" width="32.5" height="3.3" fill="#fff"/>
<text x="251.2" y="27.4" font-size="12.4" fill="#fff"><tspan font-style="italic">E</tspan><tspan font-size="9" dy="3">ph</tspan><tspan dy="-3"> = 144 meV</tspan></text>
<svg x="248.9" y="97.9" width="127.9" height="70" viewBox="0 0 127.9 70" overflow="hidden">
<g filter="url(#cmS2)">
<rect x="0" y="0" width="127.9" height="70" fill="#b2b2b2"/>
<path d="M18 -5 L97 -5 L90 47 L80 46 Z" fill="#666666" filter="url(#bl2_5)"/>
<path d="M26 -5 L91 -5 L84 40 Z" fill="#333333" filter="url(#bl1_8)"/>
<path d="M91 -5 L106 -5 L101 50 L88 46 Z" fill="#8c8c8c" filter="url(#bl2)"/>
<path d="M116 -5 L132 -5 L132 75 L109 75 Z" fill="#a8a8a8" filter="url(#bl2)"/>
<path d="M-2 7 L96 73" fill="none" stroke="#808080" stroke-width="4" stroke-linecap="round" filter="url(#bl1_5)"/>
<path d="M-2 28 L66 73" fill="none" stroke="#9c9c9c" stroke-width="4" stroke-linecap="round" filter="url(#bl2)"/>
<path d="M62 39 L103 67" fill="none" stroke="#c4c4c4" stroke-width="6" stroke-linecap="round" filter="url(#bl2_5)"/>
<path d="M110 -3 L106.5 35 L104 72" fill="none" stroke="#bdbdbd" stroke-width="5.5" stroke-linecap="round" filter="url(#bl1_5)"/>
<path d="M104 52 L104 68" fill="none" stroke="#d6d6d6" stroke-width="7" stroke-linecap="round" filter="url(#bl2)"/>
<path d="M114.5 -3 L109 72" fill="none" stroke="#737373" stroke-width="2" stroke-linecap="round" filter="url(#bl1)"/>
</g>
</svg>
<rect x="324.85" y="122.75" width="2.9" height="2.9" fill="#fff"/><rect x="331.25" y="123.65" width="2.9" height="2.9" fill="#fff"/><rect x="337.35" y="124.25" width="2.9" height="2.9" fill="#fff"/><rect x="343.85" y="124.85" width="2.9" height="2.9" fill="#fff"/><rect x="350.35" y="125.75" width="2.9" height="2.9" fill="#fff"/><rect x="356.45" y="126.45" width="2.9" height="2.9" fill="#fff"/><rect x="362.75" y="127.45" width="2.9" height="2.9" fill="#fff"/>
<rect x="369" y="128.6" width="1.5" height="1.6" fill="#fff" opacity="0.6"/>
<rect x="255.4" y="157.6" width="32.5" height="3.2" fill="#fff"/>
<text x="251.2" y="109.8" font-size="12.4" fill="#fff"><tspan font-style="italic">E</tspan><tspan font-size="9" dy="3">ph</tspan><tspan dy="-3"> = 149 meV</tspan></text>
<rect x="382.8" y="27" width="9" height="38.6" fill="url(#gSW)" stroke="#111" stroke-width="0.9"/>
<rect x="383.3" y="111" width="9" height="39.3" fill="url(#gSW)" stroke="#111" stroke-width="0.9"/>
<text x="378.8" y="21" font-size="12" text-anchor="start" fill="#111" font-weight="normal" font-style="normal" >Max</text>
<text x="379.8" y="83.2" font-size="12" text-anchor="start" fill="#111" font-weight="normal" font-style="normal" >Min</text>
<text x="378.5" y="104.9" font-size="12" text-anchor="start" fill="#111" font-weight="normal" font-style="normal" >Max</text>
<text x="379.8" y="166.8" font-size="12" text-anchor="start" fill="#111" font-weight="normal" font-style="normal" >Min</text>
<g transform="translate(406.8,43.7) rotate(90)"><text x="0" y="0" font-size="12.6" text-anchor="middle" fill="#111"><tspan font-style="italic">s</tspan>(<tspan font-style="italic">&#969;</tspan>) (arb.units)</text></g>
<g transform="translate(405.4,132.9) rotate(90)"><text x="0" y="0" font-size="12.6" text-anchor="middle" fill="#111"><tspan font-style="italic">s</tspan>(<tspan font-style="italic">&#969;</tspan>) (arb.units)</text></g>
<clipPath id="cpd"><rect x="482.7" y="12.7" width="172.7" height="131.1"/></clipPath>
<g clip-path="url(#cpd)">
<path d="M483 36.8 C483.5 36.85 484.75 36.05 486 37.1 C487.25 38.15 489.17 41.12 490.5 43.1 C491.83 45.08 492.87 47.25 494 49 C495.13 50.75 496.37 52.7 497.3 53.6 C498.23 54.5 498.72 55.15 499.6 54.4 C500.48 53.65 501.1 52.48 502.6 49.1 C504.1 45.72 506.6 38.87 508.6 34.1 C510.6 29.33 512.97 23.47 514.6 20.5 C516.23 17.53 517.27 17.17 518.4 16.3 C519.53 15.43 520.27 14.85 521.4 15.3 C522.53 15.75 523.82 17.63 525.2 19 C526.58 20.37 528.2 22.23 529.7 23.5 C531.2 24.77 532.45 25.08 534.2 26.6 C535.95 28.12 538.2 31.05 540.2 32.6 C542.2 34.15 544.57 35.45 546.2 35.9 C547.83 36.35 548.23 35.03 550 35.3 C551.77 35.57 555.05 37.47 556.8 37.5 C558.55 37.53 559.22 36.27 560.5 35.5 C561.78 34.73 563.33 33.38 564.5 32.9 C565.67 32.42 566.37 33.03 567.5 32.6 C568.63 32.17 570.17 30.48 571.3 30.3 C572.43 30.12 573.18 31.45 574.3 31.5 C575.42 31.55 576.25 30.55 578 30.6 C579.75 30.65 583.03 31.1 584.8 31.8 C586.57 32.5 587.35 33.62 588.6 34.8 C589.85 35.98 591.05 38.37 592.3 38.9 C593.55 39.43 594.22 37.43 596.1 38 C597.98 38.57 601.1 41.15 603.6 42.3 C606.1 43.45 608.33 44.2 611.1 44.9 C613.87 45.6 617.68 46.43 620.2 46.5 C622.72 46.57 624.2 45.75 626.2 45.3 C628.2 44.85 630.2 43.85 632.2 43.8 C634.2 43.75 635.95 44.75 638.2 45 C640.45 45.25 643.32 44.95 645.7 45.3 C648.08 45.65 650.95 47.07 652.5 47.1 C654.05 47.13 654.58 45.77 655 45.5" fill="none" stroke="#1b7dbb" stroke-width="1.5" stroke-linejoin="round"/>
<path d="M483 92.1 C483.75 92.48 485.8 93.57 487.5 94.4 C489.2 95.23 491.68 96.9 493.2 97.1 C494.72 97.3 495.42 96.13 496.6 95.6 C497.78 95.07 499.05 94.98 500.3 93.9 C501.55 92.82 502.72 91.65 504.1 89.1 C505.48 86.55 506.97 82.62 508.6 78.6 C510.23 74.58 512.27 68.13 513.9 65 C515.53 61.87 517.03 60.87 518.4 59.8 C519.77 58.73 520.52 58.93 522.1 58.6 C523.68 58.27 526.13 57.35 527.9 57.8 C529.67 58.25 530.9 59.83 532.7 61.3 C534.5 62.77 536.7 65.22 538.7 66.6 C540.7 67.98 542.7 68.35 544.7 69.6 C546.7 70.85 548.93 72.8 550.7 74.1 C552.47 75.4 553.92 77.15 555.3 77.4 C556.68 77.65 557.5 75.78 559 75.6 C560.5 75.42 562.47 76.3 564.3 76.3 C566.13 76.3 567.97 76.17 570 75.6 C572.03 75.03 574.4 73.58 576.5 72.9 C578.6 72.22 580.88 71.9 582.6 71.5 C584.32 71.1 585.57 70.4 586.8 70.5 C588.03 70.6 588.83 71.58 590 72.1 C591.17 72.62 592.67 73.47 593.8 73.6 C594.93 73.73 595.17 72.32 596.8 72.9 C598.43 73.48 601.22 75.7 603.6 77.1 C605.98 78.5 608.85 79.93 611.1 81.3 C613.35 82.67 615.08 83.93 617.1 85.3 C619.12 86.67 621.18 88.75 623.2 89.5 C625.22 90.25 627.2 89.43 629.2 89.8 C631.2 90.17 632.45 91.7 635.2 91.7 C637.95 91.7 642.4 89.93 645.7 89.8 C649 89.67 653.45 90.72 655 90.9" fill="none" stroke="#1428cc" stroke-width="1.5" stroke-linejoin="round"/>
<path d="M483 130.3 C484 130.85 487 132.53 489 133.6 C491 134.67 493.37 136.12 495 136.7 C496.63 137.28 497.58 136.53 498.8 137.1 C500.02 137.67 500.92 140.17 502.3 140.1 C503.68 140.03 505.42 138.65 507.1 136.7 C508.78 134.75 510.65 132.17 512.4 128.4 C514.15 124.63 515.85 118.45 517.6 114.1 C519.35 109.75 521.38 104.43 522.9 102.3 C524.42 100.17 525.57 101.05 526.7 101.3 C527.83 101.55 528.58 102.8 529.7 103.8 C530.82 104.8 532.15 106.63 533.4 107.3 C534.65 107.97 535.32 106.72 537.2 107.8 C539.08 108.88 542.2 112.05 544.7 113.8 C547.2 115.55 549.93 116.8 552.2 118.3 C554.47 119.8 556.28 121.75 558.3 122.8 C560.32 123.85 562.77 124.25 564.3 124.6 C565.83 124.95 566.22 125.35 567.5 124.9 C568.78 124.45 570.12 122.45 572 121.9 C573.88 121.35 576.53 122.15 578.8 121.6 C581.07 121.05 583.47 119.85 585.6 118.6 C587.73 117.35 589.85 114.98 591.6 114.1 C593.35 113.22 594.65 113.55 596.1 113.3 C597.55 113.05 599.05 111.97 600.3 112.6 C601.55 113.23 602.3 116.23 603.6 117.1 C604.9 117.97 606.1 116.98 608.1 117.8 C610.1 118.62 613.08 120.5 615.6 122 C618.12 123.5 621.07 124.98 623.2 126.8 C625.33 128.62 626.4 131.88 628.4 132.9 C630.4 133.92 633.07 132.98 635.2 132.9 C637.33 132.82 638.95 132.4 641.2 132.4 C643.45 132.4 646.4 133.45 648.7 132.9 C651 132.35 653.95 129.73 655 129.1" fill="none" stroke="#560ea2" stroke-width="1.5" stroke-linejoin="round"/>
<line x1="497.8" y1="18.5" x2="497.8" y2="144" stroke="#111" stroke-width="1.5" stroke-dasharray="4.5 3"/>
<line x1="575" y1="20.5" x2="598.8" y2="126.1" stroke="#cc1c2c" stroke-width="1.8" stroke-dasharray="4.5 3"/>
</g>
<rect x="482.7" y="12.7" width="172.7" height="131.1" fill="none" stroke="#333" stroke-width="1"/>
<path d="M482.7 140.1 h2.8 M482.7 120.46 h1.8 M482.7 100.83 h2.8 M482.7 81.19 h1.8 M482.7 61.56 h2.8 M482.7 41.92 h1.8 M482.7 22.29 h2.8 M514.5 143.8 v-1.8 M549.6 143.8 v-2.8 M584.7 143.8 v-1.8 M619.8 143.8 v-2.8" stroke="#333" stroke-width="0.8" fill="none"/>
<text x="480.2" y="145.4" font-size="16" text-anchor="end" fill="#262626" font-weight="normal" font-style="normal" >0</text>
<text x="480.2" y="106.13" font-size="16" text-anchor="end" fill="#262626" font-weight="normal" font-style="normal" >1</text>
<text x="480.2" y="66.86" font-size="16" text-anchor="end" fill="#262626" font-weight="normal" font-style="normal" >2</text>
<text x="480.2" y="27.59" font-size="16" text-anchor="end" fill="#262626" font-weight="normal" font-style="normal" >3</text>
<text x="549.9" y="160" font-size="16" text-anchor="middle" fill="#262626" font-weight="normal" font-style="normal" >0.2</text>
<text x="620.1" y="160" font-size="16" text-anchor="middle" fill="#262626" font-weight="normal" font-style="normal" >0.4</text>
<text x="569.2" y="176.5" font-size="13.2" text-anchor="middle" fill="#111" font-weight="normal" font-style="normal" >Position (&#956;m)</text>
<g transform="translate(462.6,79.4) rotate(-90)"><text x="0" y="0" font-size="15.8" text-anchor="middle" fill="#111">s(&#969;) (arb.units)</text></g>
<text x="601.6" y="29.9" font-size="12.6" text-anchor="start" fill="#111" font-weight="normal" font-style="normal" >144 meV</text>
<text x="601.6" y="73.4" font-size="12.6" text-anchor="start" fill="#111" font-weight="normal" font-style="normal" >147 meV</text>
<text x="601.9" y="116.3" font-size="12.6" text-anchor="start" fill="#111" font-weight="normal" font-style="normal" >149 meV</text>
<filter id="eF" filterUnits="userSpaceOnUse" x="51.6" y="202.8" width="121.7" height="161" color-interpolation-filters="sRGB">
<feColorMatrix in="SourceGraphic" type="matrix" values="0 1 0 0 0 0 1 0 0 0 0 1 0 0 0 0 0 0 0 1" result="gs"/>
<feColorMatrix in="SourceGraphic" type="matrix" values="1 0 0 0 0 1 0 0 0 0 1 0 0 0 0 0 0 0 0 1" result="core"/>
<feGaussianBlur in="gs" stdDeviation="5" result="g1"/>
<feGaussianBlur in="gs" stdDeviation="8.2" result="g2a"/><feOffset in="g2a" dx="1.5" dy="-1.5" result="g2"/>
<feGaussianBlur in="gs" stdDeviation="19.7" result="g3a"/><feOffset in="g3a" dx="6" dy="-7.5" result="g3"/>
<feComposite in="g1" in2="g2" operator="arithmetic" k2="0.15" k3="0.57" result="s12"/>
<feComposite in="s12" in2="g3" operator="arithmetic" k2="1" k3="1.8" result="sum"/>
<feColorMatrix in="sum" type="matrix" values="1 0 0 0 0 0 1 0 0 0 0 0 1 0 0 0 0 0 0 1" result="sumA0"/>
<feComponentTransfer in="sumA0" result="sumA"><feFuncR type="table" tableValues="0 0.1 0.2 0.29 0.35 0.39 0.41 0.42 0.425 0.427 0.427"/><feFuncG type="table" tableValues="0 0.1 0.2 0.29 0.35 0.39 0.41 0.42 0.425 0.427 0.427"/><feFuncB type="table" tableValues="0 0.1 0.2 0.29 0.35 0.39 0.41 0.42 0.425 0.427 0.427"/></feComponentTransfer>
<feGaussianBlur in="core" stdDeviation="1.0" result="coreB"/>
<feBlend in="coreB" in2="sumA" mode="lighten" result="fin"/>
<feComponentTransfer in="fin"><feFuncR type="table" tableValues="0.231 0.228 0.225 0.222 0.218 0.218 0.230 0.243 0.255 0.267 0.299 0.360 0.422 0.499 0.641 0.789 0.941 0.950 0.958 0.967 0.956 0.941 0.926 0.910 0.880 0.848 0.817 0.785 0.760 0.743 0.725 0.708 0.690"/><feFuncG type="table" tableValues="0.325 0.343 0.361 0.379 0.397 0.418 0.451 0.484 0.516 0.549 0.587 0.632 0.677 0.730 0.814 0.879 0.933 0.875 0.816 0.757 0.696 0.635 0.574 0.512 0.434 0.355 0.277 0.198 0.143 0.115 0.087 0.059 0.031"/><feFuncB type="table" tableValues="0.588 0.605 0.621 0.637 0.654 0.671 0.692 0.713 0.735 0.756 0.779 0.806 0.833 0.863 0.902 0.921 0.925 0.838 0.751 0.664 0.598 0.537 0.475 0.414 0.366 0.317 0.269 0.221 0.191 0.181 0.170 0.160 0.149"/><feFuncA type="linear" slope="0" intercept="1"/></feComponentTransfer>
</filter>
<svg x="54.6" y="205.8" width="115.7" height="155" viewBox="54.6 205.8 115.7 155" overflow="hidden">
<g filter="url(#eF)">
<rect x="14.6" y="165.8" width="195.7" height="235" fill="#000"/>
<linearGradient id="gBand" gradientUnits="userSpaceOnUse" x1="60" y1="0" x2="200" y2="0"><stop offset="0" stop-color="rgb(255,255,0)"/><stop offset="0.29" stop-color="rgb(255,255,0)"/><stop offset="0.33" stop-color="rgb(237,255,0)"/><stop offset="0.39" stop-color="rgb(212,255,0)"/><stop offset="0.46" stop-color="rgb(189,255,0)"/><stop offset="0.57" stop-color="rgb(176,255,0)"/><stop offset="0.71" stop-color="rgb(163,255,0)"/><stop offset="0.82" stop-color="rgb(158,255,0)"/><stop offset="1" stop-color="rgb(153,255,0)"/></linearGradient>
<linearGradient id="gBM" gradientUnits="userSpaceOnUse" x1="98" y1="0" x2="125" y2="0"><stop offset="0" stop-color="#fff"/><stop offset="1" stop-color="#000"/></linearGradient>
<mask id="mBand" maskUnits="userSpaceOnUse" x="0" y="150" width="300" height="250"><rect x="0" y="150" width="300" height="250" fill="url(#gBM)"/></mask>
<path d="M74.68 184.96 L74.76 185.73 L74.87 186.71 L74.99 187.85 L75.12 189.13 L75.27 190.5 L75.43 191.93 L75.6 193.39 L75.78 194.83 L75.97 196.21 L76.16 197.51 L76.36 198.78 L76.58 200.06 L76.82 201.34 L77.06 202.63 L77.32 203.93 L77.59 205.22 L77.88 206.52 L78.2 207.81 L78.54 209.09 L78.88 210.38 L79.23 211.66 L79.6 212.95 L79.97 214.23 L80.35 215.52 L80.75 216.81 L81.15 218.09 L81.56 219.38 L81.98 220.66 L82.41 221.95 L82.85 223.23 L83.3 224.52 L83.76 225.81 L84.23 227.11 L84.69 228.4 L85.16 229.69 L85.64 230.97 L86.13 232.25 L86.63 233.52 L87.14 234.77 L87.66 236.02 L88.2 237.27 L88.74 238.52 L89.29 239.75 L89.85 240.99 L90.42 242.21 L91 243.43 L91.59 244.63 L92.25 245.81 L92.92 246.96 L93.6 248.11 L94.29 249.26 L95 250.4 L95.71 251.53 L96.44 252.66 L97.17 253.77 L97.91 254.87 L98.66 255.97 L99.39 257.06 L100.12 258.13 L100.87 259.2 L101.63 260.25 L102.39 261.3 L103.17 262.33 L103.95 263.35 L104.74 264.35 L105.53 265.34 L106.33 266.31 L107.14 267.27 L107.95 268.22 L108.76 269.15 L109.59 270.09 L110.44 271.01 L111.29 271.92 L112.15 272.81 L113.01 273.69 L113.88 274.55 L114.76 275.4 L115.64 276.22 L116.53 277.02 L117.42 277.8 L118.32 278.56 L119.24 279.31 L120.16 280.04 L121.09 280.75 L122.04 281.45 L122.99 282.14 L123.96 282.82 L124.94 283.49 L125.94 284.15 L126.94 284.8 L127.95 285.44 L128.97 286.06 L130 286.67 L131.04 287.27 L132.09 287.86 L133.14 288.45 L134.19 289.03 L135.26 289.6 L136.33 290.15 L137.4 290.69 L138.48 291.21 L139.56 291.72 L140.65 292.21 L141.75 292.7 L142.86 293.16 L143.98 293.62 L145.11 294.07 L146.26 294.5 L147.42 294.93 L148.58 295.35 L149.75 295.75 L150.93 296.14 L152.13 296.52 L153.33 296.89 L154.54 297.24 L155.77 297.59 L157 297.92 L158.24 298.25 L159.48 298.56 L160.72 298.85 L161.96 299.14 L163.21 299.41 L164.47 299.66 L165.75 299.91 L167.03 300.14 L168.33 300.37 L169.63 300.59 L170.95 300.8 L172.27 301 L173.6 301.19 L174.92 301.38 L176.25 301.55 L177.58 301.72 L178.91 301.87 L180.25 302.02 L181.59 302.16 L182.93 302.28 L184.28 302.4 L185.63 302.51 L186.97 302.61 L188.36 302.69 L189.86 302.77 L191.46 302.83 L193.09 302.89 L194.7 302.93 L196.26 302.97 L197.72 303.01 L199.03 303.04 L200.16 303.06 L201.05 303.09 L200.55 319.91 L199.72 319.89 L198.64 319.86 L197.33 319.83 L195.85 319.8 L194.25 319.75 L192.56 319.7 L190.83 319.65 L189.11 319.58 L187.42 319.49 L185.83 319.39 L184.33 319.28 L182.86 319.16 L181.39 319.03 L179.92 318.88 L178.45 318.73 L177 318.57 L175.54 318.39 L174.09 318.21 L172.64 318.01 L171.2 317.81 L169.77 317.6 L168.34 317.37 L166.91 317.14 L165.48 316.9 L164.05 316.64 L162.61 316.38 L161.17 316.09 L159.74 315.79 L158.3 315.48 L156.88 315.15 L155.46 314.8 L154.06 314.44 L152.66 314.07 L151.26 313.68 L149.87 313.28 L148.48 312.87 L147.1 312.43 L145.73 311.99 L144.37 311.53 L143.02 311.05 L141.68 310.57 L140.36 310.07 L139.04 309.56 L137.73 309.03 L136.43 308.49 L135.13 307.93 L133.84 307.35 L132.55 306.75 L131.27 306.14 L130 305.51 L128.74 304.86 L127.49 304.2 L126.24 303.52 L125 302.82 L123.78 302.11 L122.57 301.36 L121.37 300.59 L120.19 299.81 L119.01 299.01 L117.86 298.2 L116.72 297.37 L115.6 296.54 L114.49 295.69 L113.38 294.82 L112.29 293.93 L111.21 293.03 L110.13 292.1 L109.07 291.16 L108.02 290.19 L106.98 289.2 L105.95 288.19 L104.94 287.16 L103.94 286.12 L102.96 285.06 L102 283.98 L101.06 282.9 L100.13 281.8 L99.22 280.69 L98.32 279.57 L97.44 278.45 L96.56 277.3 L95.71 276.13 L94.88 274.95 L94.07 273.75 L93.28 272.55 L92.5 271.34 L91.73 270.12 L90.99 268.89 L90.25 267.65 L89.53 266.4 L88.82 265.14 L88.11 263.87 L87.43 262.58 L86.77 261.27 L86.14 259.95 L85.52 258.63 L84.92 257.3 L84.33 255.97 L83.76 254.63 L83.2 253.29 L82.65 251.94 L82.12 250.58 L81.6 249.22 L81.04 247.88 L80.49 246.54 L79.96 245.19 L79.43 243.84 L78.92 242.49 L78.43 241.14 L77.94 239.78 L77.46 238.41 L76.99 237.03 L76.54 235.65 L76.1 234.26 L75.68 232.87 L75.26 231.49 L74.86 230.11 L74.47 228.72 L74.1 227.34 L73.75 225.97 L73.4 224.59 L73.06 223.21 L72.73 221.83 L72.41 220.46 L72.1 219.08 L71.81 217.71 L71.52 216.33 L71.24 214.96 L70.98 213.59 L70.72 212.22 L70.47 210.85 L70.24 209.49 L70.01 208.12 L69.77 206.76 L69.53 205.4 L69.3 204.04 L69.07 202.7 L68.86 201.35 L68.65 200.02 L68.44 198.69 L68.24 197.29 L68.04 195.82 L67.86 194.32 L67.68 192.82 L67.52 191.35 L67.37 189.96 L67.23 188.67 L67.11 187.53 L67.01 186.58 L66.92 185.84 Z" fill="rgb(175,255,0)" mask="url(#mBand)"/>
<path d="M73.68 185.08 L73.77 185.84 L73.87 186.81 L73.99 187.96 L74.13 189.23 L74.28 190.61 L74.44 192.04 L74.61 193.51 L74.79 194.95 L74.97 196.35 L75.17 197.66 L75.37 198.94 L75.59 200.22 L75.83 201.52 L76.08 202.81 L76.34 204.11 L76.61 205.41 L76.9 206.72 L77.22 208.01 L77.56 209.31 L77.91 210.6 L78.26 211.89 L78.63 213.18 L79 214.47 L79.39 215.77 L79.78 217.06 L80.18 218.35 L80.6 219.65 L81.02 220.94 L81.45 222.23 L81.9 223.52 L82.35 224.81 L82.81 226.11 L83.27 227.41 L83.74 228.71 L84.21 230.01 L84.7 231.3 L85.19 232.58 L85.69 233.86 L86.21 235.12 L86.73 236.38 L87.27 237.64 L87.81 238.89 L88.37 240.14 L88.93 241.38 L89.51 242.61 L90.09 243.84 L90.69 245.05 L91.35 246.23 L92.02 247.4 L92.71 248.56 L93.4 249.71 L94.11 250.86 L94.83 252 L95.56 253.14 L96.3 254.26 L97.04 255.37 L97.79 256.47 L98.53 257.57 L99.27 258.66 L100.03 259.73 L100.79 260.8 L101.56 261.85 L102.34 262.89 L103.13 263.92 L103.92 264.93 L104.72 265.93 L105.53 266.91 L106.35 267.88 L107.17 268.84 L107.99 269.79 L108.83 270.73 L109.68 271.66 L110.54 272.58 L111.41 273.49 L112.28 274.37 L113.16 275.25 L114.05 276.1 L114.94 276.93 L115.84 277.75 L116.75 278.54 L117.66 279.31 L118.58 280.07 L119.52 280.8 L120.46 281.53 L121.42 282.24 L122.39 282.94 L123.37 283.63 L124.36 284.31 L125.37 284.97 L126.38 285.63 L127.4 286.27 L128.43 286.9 L129.47 287.52 L130.52 288.13 L131.58 288.72 L132.64 289.32 L133.71 289.91 L134.79 290.48 L135.87 291.04 L136.95 291.59 L138.04 292.11 L139.14 292.63 L140.24 293.13 L141.35 293.61 L142.47 294.09 L143.61 294.55 L144.75 295 L145.9 295.44 L147.07 295.87 L148.25 296.29 L149.43 296.69 L150.62 297.09 L151.82 297.47 L153.04 297.84 L154.26 298.2 L155.5 298.55 L156.74 298.89 L157.99 299.21 L159.24 299.53 L160.49 299.83 L161.75 300.11 L163 300.38 L164.28 300.64 L165.56 300.89 L166.85 301.13 L168.16 301.36 L169.47 301.57 L170.79 301.78 L172.12 301.99 L173.46 302.18 L174.79 302.37 L176.12 302.54 L177.46 302.71 L178.79 302.87 L180.14 303.01 L181.49 303.15 L182.84 303.28 L184.2 303.4 L185.56 303.51 L186.9 303.61 L188.3 303.69 L189.82 303.77 L191.42 303.83 L193.05 303.89 L194.68 303.93 L196.24 303.97 L197.7 304.01 L199.01 304.04 L200.14 304.06 L201.02 304.09 L200.58 318.91 L199.75 318.89 L198.66 318.86 L197.36 318.83 L195.88 318.8 L194.27 318.75 L192.59 318.71 L190.87 318.65 L189.15 318.58 L187.48 318.49 L185.9 318.39 L184.41 318.28 L182.94 318.16 L181.48 318.03 L180.02 317.89 L178.56 317.74 L177.11 317.57 L175.66 317.4 L174.22 317.22 L172.78 317.02 L171.34 316.82 L169.92 316.61 L168.5 316.39 L167.07 316.16 L165.65 315.91 L164.22 315.66 L162.8 315.39 L161.37 315.11 L159.95 314.81 L158.52 314.5 L157.11 314.17 L155.7 313.83 L154.31 313.47 L152.92 313.1 L151.53 312.72 L150.15 312.32 L148.77 311.91 L147.4 311.48 L146.04 311.04 L144.69 310.58 L143.35 310.11 L142.03 309.63 L140.71 309.13 L139.41 308.63 L138.11 308.1 L136.81 307.56 L135.53 307.01 L134.25 306.44 L132.97 305.85 L131.71 305.24 L130.45 304.61 L129.2 303.97 L127.96 303.32 L126.72 302.64 L125.5 301.95 L124.28 301.24 L123.08 300.5 L121.9 299.74 L120.72 298.96 L119.56 298.17 L118.42 297.37 L117.3 296.55 L116.18 295.73 L115.08 294.88 L113.99 294.02 L112.91 293.15 L111.83 292.25 L110.77 291.33 L109.72 290.4 L108.68 289.44 L107.65 288.46 L106.64 287.46 L105.64 286.44 L104.65 285.41 L103.68 284.36 L102.73 283.3 L101.8 282.22 L100.88 281.14 L99.97 280.04 L99.08 278.93 L98.21 277.81 L97.35 276.67 L96.5 275.52 L95.68 274.35 L94.88 273.16 L94.09 271.97 L93.32 270.76 L92.56 269.55 L91.82 268.33 L91.09 267.11 L90.37 265.87 L89.67 264.62 L88.97 263.35 L88.29 262.07 L87.64 260.77 L87.01 259.47 L86.4 258.15 L85.8 256.83 L85.22 255.5 L84.65 254.17 L84.09 252.84 L83.55 251.5 L83.03 250.15 L82.51 248.8 L81.95 247.47 L81.41 246.14 L80.88 244.8 L80.36 243.46 L79.85 242.12 L79.35 240.77 L78.87 239.42 L78.4 238.06 L77.93 236.69 L77.48 235.31 L77.05 233.93 L76.62 232.56 L76.21 231.18 L75.81 229.8 L75.43 228.42 L75.06 227.05 L74.7 225.68 L74.36 224.31 L74.02 222.94 L73.69 221.57 L73.38 220.2 L73.07 218.83 L72.77 217.46 L72.49 216.09 L72.21 214.73 L71.95 213.36 L71.69 212 L71.45 210.64 L71.22 209.28 L70.99 207.92 L70.75 206.56 L70.51 205.21 L70.28 203.87 L70.06 202.52 L69.85 201.19 L69.64 199.86 L69.43 198.54 L69.23 197.15 L69.04 195.7 L68.85 194.2 L68.67 192.7 L68.51 191.24 L68.36 189.85 L68.22 188.57 L68.1 187.43 L68 186.47 L67.92 185.72 Z" fill="url(#gBand)" filter="url(#bl3)"/>
<path d="M73.68 185.08 L73.77 185.84 L73.87 186.81 L73.99 187.96 L74.13 189.23 L74.28 190.61 L74.44 192.04 L74.61 193.51 L74.79 194.95 L74.97 196.35 L75.17 197.66 L75.37 198.94 L75.59 200.22 L75.83 201.52 L76.08 202.81 L76.34 204.11 L76.61 205.41 L76.9 206.72 L77.22 208.01 L77.56 209.31 L77.91 210.6 L78.26 211.89 L78.63 213.18 L79 214.47 L79.39 215.77 L79.78 217.06 L80.18 218.35 L80.6 219.65 L81.02 220.94 L81.45 222.23 L81.9 223.52 L82.35 224.81 L82.81 226.11 L83.27 227.41 L83.74 228.71 L84.21 230.01 L84.7 231.3 L85.19 232.58 L85.69 233.86 L86.21 235.12 L86.73 236.38 L87.27 237.64 L87.81 238.89 L88.37 240.14 L88.93 241.38 L89.51 242.61 L90.09 243.84 L90.69 245.05 L91.35 246.23 L92.02 247.4 L92.71 248.56 L93.4 249.71 L94.11 250.86 L94.83 252 L95.56 253.14 L96.3 254.26 L97.04 255.37 L97.79 256.47 L98.53 257.57 L99.27 258.66 L100.03 259.73 L100.79 260.8 L101.56 261.85 L102.34 262.89 L103.13 263.92 L103.92 264.93 L104.72 265.93 L105.53 266.91 L106.35 267.88 L107.17 268.84 L107.99 269.79 L108.83 270.73 L109.68 271.66 L110.54 272.58 L111.41 273.49 L112.28 274.37 L113.16 275.25 L114.05 276.1 L114.94 276.93 L115.84 277.75 L116.75 278.54 L117.66 279.31 L118.58 280.07 L119.52 280.8 L120.46 281.53 L121.42 282.24 L122.39 282.94 L123.37 283.63 L124.36 284.31 L125.37 284.97 L126.38 285.63 L127.4 286.27 L128.43 286.9 L129.47 287.52 L130.52 288.13 L131.58 288.72 L132.64 289.32 L133.71 289.91 L134.79 290.48 L135.87 291.04 L136.95 291.59 L138.04 292.11 L139.14 292.63 L140.24 293.13 L141.35 293.61 L142.47 294.09 L143.61 294.55 L144.75 295 L145.9 295.44 L147.07 295.87 L148.25 296.29 L149.43 296.69 L150.62 297.09 L151.82 297.47 L153.04 297.84 L154.26 298.2 L155.5 298.55 L156.74 298.89 L157.99 299.21 L159.24 299.53 L160.49 299.83 L161.75 300.11 L163 300.38 L164.28 300.64 L165.56 300.89 L166.85 301.13 L168.16 301.36 L169.47 301.57 L170.79 301.78 L172.12 301.99 L173.46 302.18 L174.79 302.37 L176.12 302.54 L177.46 302.71 L178.79 302.87 L180.14 303.01 L181.49 303.15 L182.84 303.28 L184.2 303.4 L185.56 303.51 L186.9 303.61 L188.3 303.69 L189.82 303.77 L191.42 303.83 L193.05 303.89 L194.68 303.93 L196.24 303.97 L197.7 304.01 L199.01 304.04 L200.14 304.06 L201.02 304.09 L200.58 318.91 L199.75 318.89 L198.66 318.86 L197.36 318.83 L195.88 318.8 L194.27 318.75 L192.59 318.71 L190.87 318.65 L189.15 318.58 L187.48 318.49 L185.9 318.39 L184.41 318.28 L182.94 318.16 L181.48 318.03 L180.02 317.89 L178.56 317.74 L177.11 317.57 L175.66 317.4 L174.22 317.22 L172.78 317.02 L171.34 316.82 L169.92 316.61 L168.5 316.39 L167.07 316.16 L165.65 315.91 L164.22 315.66 L162.8 315.39 L161.37 315.11 L159.95 314.81 L158.52 314.5 L157.11 314.17 L155.7 313.83 L154.31 313.47 L152.92 313.1 L151.53 312.72 L150.15 312.32 L148.77 311.91 L147.4 311.48 L146.04 311.04 L144.69 310.58 L143.35 310.11 L142.03 309.63 L140.71 309.13 L139.41 308.63 L138.11 308.1 L136.81 307.56 L135.53 307.01 L134.25 306.44 L132.97 305.85 L131.71 305.24 L130.45 304.61 L129.2 303.97 L127.96 303.32 L126.72 302.64 L125.5 301.95 L124.28 301.24 L123.08 300.5 L121.9 299.74 L120.72 298.96 L119.56 298.17 L118.42 297.37 L117.3 296.55 L116.18 295.73 L115.08 294.88 L113.99 294.02 L112.91 293.15 L111.83 292.25 L110.77 291.33 L109.72 290.4 L108.68 289.44 L107.65 288.46 L106.64 287.46 L105.64 286.44 L104.65 285.41 L103.68 284.36 L102.73 283.3 L101.8 282.22 L100.88 281.14 L99.97 280.04 L99.08 278.93 L98.21 277.81 L97.35 276.67 L96.5 275.52 L95.68 274.35 L94.88 273.16 L94.09 271.97 L93.32 270.76 L92.56 269.55 L91.82 268.33 L91.09 267.11 L90.37 265.87 L89.67 264.62 L88.97 263.35 L88.29 262.07 L87.64 260.77 L87.01 259.47 L86.4 258.15 L85.8 256.83 L85.22 255.5 L84.65 254.17 L84.09 252.84 L83.55 251.5 L83.03 250.15 L82.51 248.8 L81.95 247.47 L81.41 246.14 L80.88 244.8 L80.36 243.46 L79.85 242.12 L79.35 240.77 L78.87 239.42 L78.4 238.06 L77.93 236.69 L77.48 235.31 L77.05 233.93 L76.62 232.56 L76.21 231.18 L75.81 229.8 L75.43 228.42 L75.06 227.05 L74.7 225.68 L74.36 224.31 L74.02 222.94 L73.69 221.57 L73.38 220.2 L73.07 218.83 L72.77 217.46 L72.49 216.09 L72.21 214.73 L71.95 213.36 L71.69 212 L71.45 210.64 L71.22 209.28 L70.99 207.92 L70.75 206.56 L70.51 205.21 L70.28 203.87 L70.06 202.52 L69.85 201.19 L69.64 199.86 L69.43 198.54 L69.23 197.15 L69.04 195.7 L68.85 194.2 L68.67 192.7 L68.51 191.24 L68.36 189.85 L68.22 188.57 L68.1 187.43 L68 186.47 L67.92 185.72 Z" fill="url(#gBand)" mask="url(#mBand)"/>
</g>
</svg>
<path d="M86.6 251.6 h10 M92.1 258.2 h10 M97 264.1 h10 M98.3 277.3 h10 M103 290 h10 M112.3 295 h10 M114 296.5 h10 M123.7 299.7 h10 M145.6 309.3 h10" stroke="#222" stroke-width="0.8" fill="none"/>
<rect x="89.4" y="249.4" width="4.4" height="4.4" fill="#ffff00" stroke="#333" stroke-width="0.6"/>
<rect x="94.9" y="256" width="4.4" height="4.4" fill="#ffff00" stroke="#333" stroke-width="0.6"/>
<rect x="99.8" y="261.9" width="4.4" height="4.4" fill="#ffff00" stroke="#333" stroke-width="0.6"/>
<rect x="101.1" y="275.1" width="4.4" height="4.4" fill="#ffff00" stroke="#333" stroke-width="0.6"/>
<rect x="105.8" y="287.8" width="4.4" height="4.4" fill="#ffff00" stroke="#333" stroke-width="0.6"/>
<rect x="115.1" y="292.8" width="4.4" height="4.4" fill="#ffff00" stroke="#333" stroke-width="0.6"/>
<rect x="116.8" y="294.3" width="4.4" height="4.4" fill="#ffff00" stroke="#333" stroke-width="0.6"/>
<rect x="126.5" y="297.5" width="4.4" height="4.4" fill="#ffff00" stroke="#333" stroke-width="0.6"/>
<rect x="148.4" y="307.1" width="4.4" height="4.4" fill="#ffff00" stroke="#333" stroke-width="0.6"/>
<rect x="54.6" y="205.8" width="115.7" height="155" fill="none" stroke="#444" stroke-width="1"/>
<path d="M54.6 309.4 h5.5 M170.3 309.4 h-5.5 M54.6 258 h5.5 M170.3 258 h-5.5 M82.7 360.8 v-5.5 M82.7 205.8 v5.5 M111.5 360.8 v-5.5 M111.5 205.8 v5.5 M140.3 360.8 v-5.5 M140.3 205.8 v5.5" stroke="#333" stroke-width="1.2" fill="none"/>
<text x="51" y="210.9" font-size="12" text-anchor="end" fill="#262626" font-weight="normal" font-style="normal" >160</text>
<text x="51" y="262.3" font-size="12" text-anchor="end" fill="#262626" font-weight="normal" font-style="normal" >150</text>
<text x="51" y="313.7" font-size="12" text-anchor="end" fill="#262626" font-weight="normal" font-style="normal" >140</text>
<text x="51" y="365.1" font-size="12" text-anchor="end" fill="#262626" font-weight="normal" font-style="normal" >130</text>
<text x="82.7" y="377" font-size="12" text-anchor="middle" fill="#262626" font-weight="normal" font-style="normal" >1</text>
<text x="111.5" y="377" font-size="12" text-anchor="middle" fill="#262626" font-weight="normal" font-style="normal" >2</text>
<text x="140.3" y="377" font-size="12" text-anchor="middle" fill="#262626" font-weight="normal" font-style="normal" >3</text>
<text x="169.1" y="377" font-size="12" text-anchor="middle" fill="#262626" font-weight="normal" font-style="normal" >4</text>
<text x="112.3" y="395.3" font-size="13" text-anchor="middle" fill="#111"><tspan font-style="italic">q</tspan> (10<tspan font-size="9.5" dy="-5.5">7</tspan><tspan dy="5.5"> m</tspan><tspan font-size="9.5" dy="-5.5">-1</tspan><tspan dy="5.5">)</tspan></text>
<g transform="translate(22.3,281.5) rotate(-90)"><text x="0" y="0" font-size="12.5" text-anchor="middle" fill="#111"><tspan font-style="italic">E</tspan><tspan font-size="8.8" dy="3">ph</tspan><tspan dy="-3"> (meV)</tspan></text></g>
<rect x="180" y="225" width="9.8" height="113.6" fill="url(#gRB)" stroke="#666" stroke-width="0.5"/>
<text x="180.3" y="219.8" font-size="12" text-anchor="start" fill="#111" font-weight="normal" font-style="normal" >Max</text>
<text x="180" y="354" font-size="12" text-anchor="start" fill="#111" font-weight="normal" font-style="normal" >Min</text>
<g transform="translate(208,290.1) rotate(90)"><text x="0" y="0" font-size="13.1" text-anchor="middle" fill="#111">Im(r<tspan font-size="8.5" dy="3">p</tspan><tspan dy="-3">) (arb.units)</tspan></text></g>
<clipPath id="cpf"><rect x="281.6" y="202.2" width="119.9" height="155.6"/></clipPath>
<path d="M281.3 217 C283.03 220.33 288.58 231.27 291.7 237 C294.82 242.73 296.3 245.93 300 251.4 C303.7 256.87 309.73 264.28 313.9 269.8 C318.07 275.32 321.48 280.22 325 284.5 C328.52 288.78 329.7 289.67 335 295.5 C340.3 301.33 349.48 312.38 356.8 319.5 C364.12 326.62 371.45 332.7 378.9 338.2 C386.35 343.7 397.73 350.12 401.5 352.5" fill="none" stroke="#a3195b" stroke-width="1.5" clip-path="url(#cpf)"/>
<path d="M291.8 226 V254.4 M289.3 226 h5 M289.3 254.4 h5 M313.3 248.1 V270.7 M310.8 248.1 h5 M310.8 270.7 h5 M335 276.7 V311.2 M332.5 276.7 h5 M332.5 311.2 h5 M356.8 305.1 V333.5 M354.3 305.1 h5 M354.3 333.5 h5 M378.9 326.4 V349.3 M376.4 326.4 h5 M376.4 349.3 h5" stroke="#d9955f" stroke-width="1" fill="none"/>
<circle cx="291.8" cy="240" r="3.6" fill="#f9bf8e" stroke="#1a1a1a" stroke-width="0.8"/>
<circle cx="313.3" cy="259.1" r="3.6" fill="#f9bf8e" stroke="#1a1a1a" stroke-width="0.8"/>
<circle cx="335" cy="294.1" r="3.6" fill="#f9bf8e" stroke="#1a1a1a" stroke-width="0.8"/>
<circle cx="356.8" cy="319.5" r="3.6" fill="#f9bf8e" stroke="#1a1a1a" stroke-width="0.8"/>
<circle cx="378.9" cy="338.2" r="3.6" fill="#f9bf8e" stroke="#1a1a1a" stroke-width="0.8"/>
<rect x="281.6" y="202.2" width="119.9" height="155.6" fill="none" stroke="#111" stroke-width="1.2"/>
<path d="M281.6 357.8 v-3 M296.59 357.8 v-2 M311.58 357.8 v-3 M326.56 357.8 v-2 M341.55 357.8 v-3 M356.54 357.8 v-2 M371.53 357.8 v-3 M386.52 357.8 v-2 M401.5 357.8 v-3 M281.6 357.98 h2 M281.6 329.8 h3 M281.6 301.62 h2 M281.6 273.45 h3 M281.6 245.28 h2 M281.6 217.1 h3" stroke="#111" stroke-width="1" fill="none"/>
<text x="277.9" y="220.7" font-size="13.6" text-anchor="end" fill="#262626" font-weight="normal" font-style="normal" >2</text>
<text x="277.9" y="277.05" font-size="13.6" text-anchor="end" fill="#262626" font-weight="normal" font-style="normal" >1.8</text>
<text x="277.9" y="333.4" font-size="13.6" text-anchor="end" fill="#262626" font-weight="normal" font-style="normal" >1.6</text>
<text x="281.6" y="373.4" font-size="13.2" text-anchor="middle" fill="#262626" font-weight="normal" font-style="normal" >0.4</text>
<text x="311.58" y="373.4" font-size="13.2" text-anchor="middle" fill="#262626" font-weight="normal" font-style="normal" >0.8</text>
<text x="341.55" y="373.4" font-size="13.2" text-anchor="middle" fill="#262626" font-weight="normal" font-style="normal" >1.2</text>
<text x="371.53" y="373.4" font-size="13.2" text-anchor="middle" fill="#262626" font-weight="normal" font-style="normal" >1.6</text>
<text x="401.5" y="373.4" font-size="13.2" text-anchor="middle" fill="#262626" font-weight="normal" font-style="normal" >2</text>
<text x="341.3" y="391.2" font-size="13.2" text-anchor="middle" fill="#111"><tspan font-style="italic">n</tspan> (10<tspan font-size="9.5" dy="-5.5">13</tspan><tspan dy="5.5"> cm</tspan><tspan font-size="9.5" dy="-5.5">-2</tspan><tspan dy="5.5">)</tspan></text>
<g transform="translate(253.5,280) rotate(-90)"><text x="0" y="0" font-size="15.5" text-anchor="middle" fill="#111"><tspan font-style="italic">q</tspan> (10<tspan font-size="11" dy="-6.5">7</tspan><tspan dy="6.5"> m</tspan><tspan font-size="11" dy="-6.5">-1</tspan><tspan dy="6.5">)</tspan></text></g>
<text x="313.8" y="217.8" font-size="12.2" fill="#111"><tspan font-style="italic">E</tspan><tspan font-size="8.8" dy="3">ph</tspan><tspan dy="-3"> = 144 meV</tspan></text>
<rect x="453.6" y="235.8" width="41.4" height="5.8" fill="#bdbdbd" stroke="#1a1a1a" stroke-width="0.9"/>
<rect x="453.6" y="244.8" width="41.4" height="5.8" fill="#f8cd52" stroke="#1a1a1a" stroke-width="0.9"/>
<rect x="453.6" y="253.6" width="41.4" height="5.8" fill="#f8cd52" stroke="#1a1a1a" stroke-width="0.9"/>
<rect x="453.6" y="262.4" width="41.4" height="5.8" fill="#f8cd52" stroke="#1a1a1a" stroke-width="0.9"/>
<rect x="453.6" y="305.9" width="41.4" height="5.8" fill="#bdbdbd" stroke="#1a1a1a" stroke-width="0.9"/>
<rect x="453.6" y="315.2" width="41.4" height="5.8" fill="#f8cd52" stroke="#1a1a1a" stroke-width="0.9"/>
<rect x="453.6" y="324" width="41.4" height="5.8" fill="#f8cd52" stroke="#1a1a1a" stroke-width="0.9"/>
<rect x="453.6" y="333" width="41.4" height="5.8" fill="#f8cd52" stroke="#1a1a1a" stroke-width="0.9"/>
<rect x="453.6" y="342" width="41.4" height="5.8" fill="#f8cd52" stroke="#1a1a1a" stroke-width="0.9"/>
<rect x="453.6" y="351.4" width="41.4" height="5.8" fill="#f8cd52" stroke="#1a1a1a" stroke-width="0.9"/>
<text x="437.6" y="218.8" font-size="12.5" fill="#111">WO<tspan font-size="8.8" dy="3">x</tspan><tspan dy="-3">/3L-WSe</tspan><tspan font-size="8.8" dy="3">2</tspan></text>
<text x="441.6" y="300.5" font-size="12.5" fill="#111">WO<tspan font-size="8.8" dy="3">x</tspan><tspan dy="-3">/5L-WSe</tspan><tspan font-size="8.8" dy="3">2</tspan></text>
<text x="540" y="218.9" font-size="12.3" fill="#111"><tspan font-style="italic">E</tspan><tspan font-size="8.8" dy="3">ph</tspan><tspan dy="-3"> = 270 meV</tspan></text>
<text x="543.5" y="300.0" font-size="12.3" fill="#111"><tspan font-style="italic">E</tspan><tspan font-size="8.8" dy="3">ph</tspan><tspan dy="-3"> = 98 meV</tspan></text>
<svg x="502.1" y="224.5" width="139" height="52.5" viewBox="0 0 139 52.5" overflow="hidden">
<g filter="url(#cmS3)">
<rect x="-30" y="-30" width="199" height="112.5" fill="#262626"/>
<path d="M-25 -25 L34 -25 L8 30 L-25 30 Z" fill="#303030" filter="url(#bl5)"/>
<path d="M72 -35 L170 -35 L170 90 L8 90 Z" fill="#4c4c4c" filter="url(#bl6)"/>
<path d="M100 -35 L170 -35 L170 90 L22 90 Z" fill="#666666" filter="url(#bl8)"/>
<path d="M140 -35 L170 -35 L170 90 L35 90 Z" fill="#858585" filter="url(#bl8)"/>
<path d="M165 -35 L175 -35 L175 90 L70 90 Z" fill="#8f8f8f" filter="url(#bl8)"/>
<ellipse cx="118" cy="58" rx="55" ry="20" fill="#b2b2b2" filter="url(#bl6)"/>
<ellipse cx="125" cy="60" rx="30" ry="10" fill="#c7c7c7" filter="url(#bl4)"/>
</g>
</svg>
<rect x="507.4" y="266.9" width="32.4" height="3.3" fill="#fff"/>
<svg x="502.1" y="306.2" width="141.6" height="50.9" viewBox="0 0 141.6 50.9" overflow="hidden">
<linearGradient id="gG2" gradientUnits="userSpaceOnUse" x1="60" y1="0" x2="142" y2="0"><stop offset="0" stop-color="#4f4f4f"/><stop offset="0.5" stop-color="#4f4f4f"/><stop offset="0.7" stop-color="#3d3d3d"/><stop offset="1" stop-color="#262626"/></linearGradient>
<g filter="url(#cmS4)">
<rect x="0" y="0" width="141.6" height="50.9" fill="#949494"/>
<path d="M72 -3 C71 0 68.33 8.67 66 15 C63.67 21.33 60.33 28.5 58 35 C55.67 41.5 53 50.83 52 54" fill="none" stroke="#a3a3a3" stroke-width="10" stroke-linecap="round" filter="url(#bl4)"/>
<path d="M79 -3 C75 12 68 30 61 55 L150 55 L150 -3 Z" fill="url(#gG2)" filter="url(#bl2)"/>
<path d="M107 -3 C105.33 -0.17 99.83 9.33 97 14 C94.17 18.67 92.17 20.67 90 25 C87.83 29.33 85.58 35.17 84 40 C82.42 44.83 81.08 51.67 80.5 54" fill="none" stroke="#adadad" stroke-width="10" stroke-linecap="round" filter="url(#bl2_2)"/>
<path d="M107 -3 C105.33 -0.17 99.83 9.33 97 14 C94.17 18.67 92.17 20.67 90 25 C87.83 29.33 85.58 35.17 84 40 C82.42 44.83 81.08 51.67 80.5 54" fill="none" stroke="#cccccc" stroke-width="4.5" stroke-linecap="round" filter="url(#bl1_5)"/>
</g>
</svg>
<rect x="507.6" y="346.8" width="31.9" height="3.2" fill="#fff"/>
<rect x="651.2" y="263.8" width="8.8" height="38.7" fill="url(#gSW)" stroke="#111" stroke-width="0.9"/>
<text x="648" y="258.2" font-size="12" text-anchor="start" fill="#111" font-weight="normal" font-style="normal" >Max</text>
<text x="649.5" y="317.6" font-size="12" text-anchor="start" fill="#111" font-weight="normal" font-style="normal" >Min</text>
<g transform="translate(676.2,278.7) rotate(90)"><text x="0" y="0" font-size="12.6" text-anchor="middle" fill="#111"><tspan font-style="italic">s</tspan>(<tspan font-style="italic">&#969;</tspan>) (arb.units)</text></g>
</svg></body></html>
